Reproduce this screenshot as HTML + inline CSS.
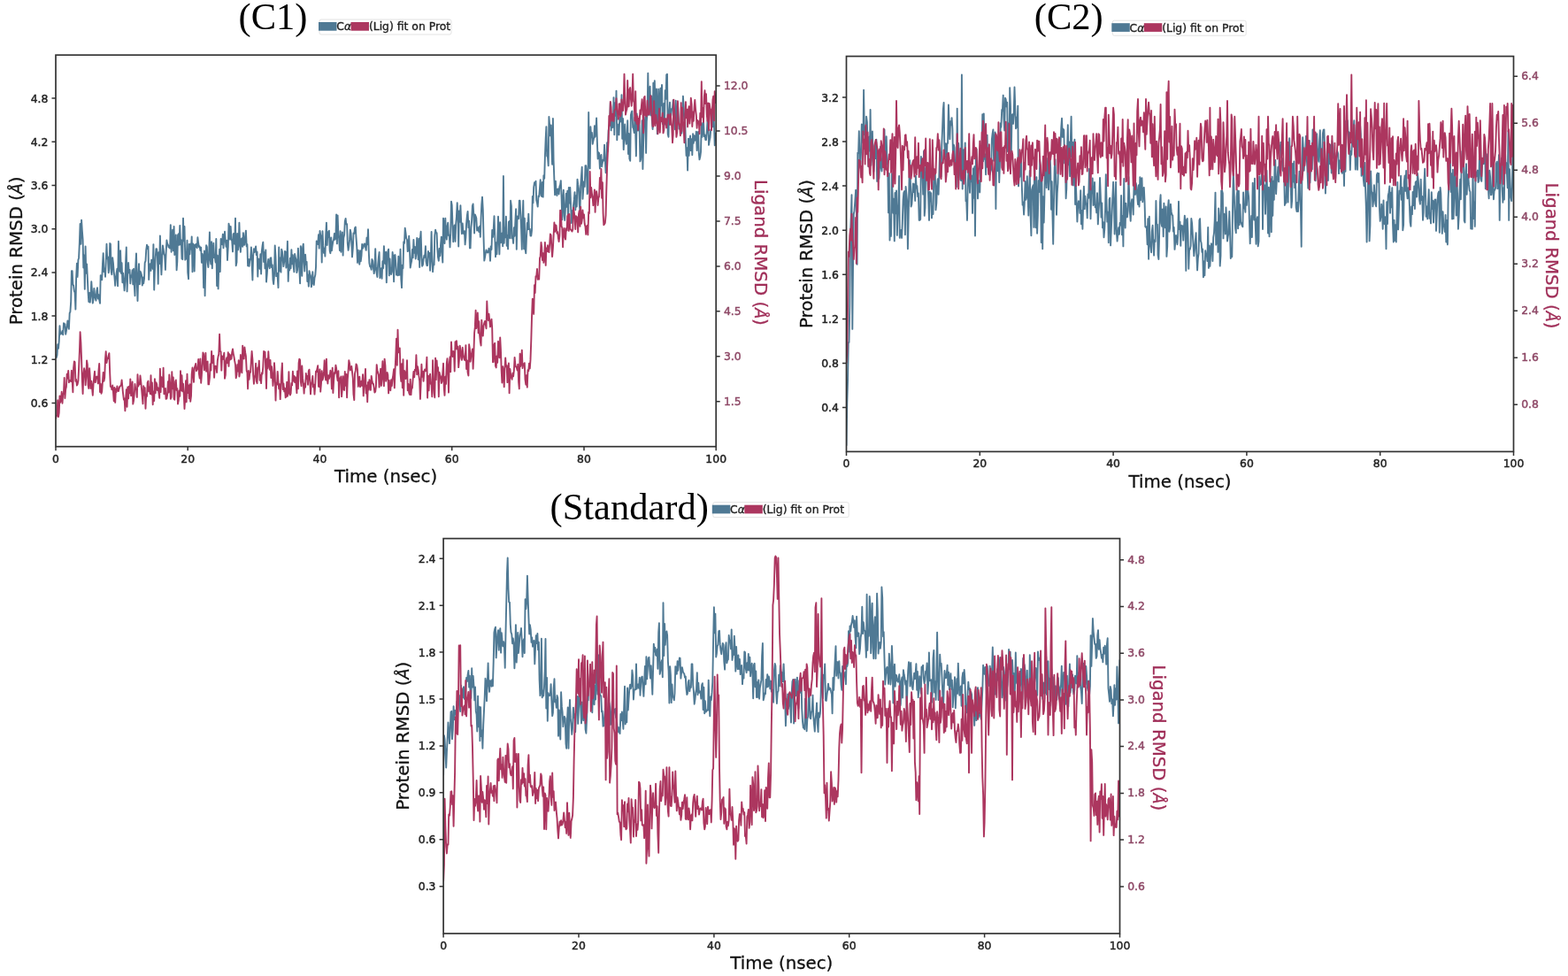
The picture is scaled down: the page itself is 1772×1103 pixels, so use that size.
<!DOCTYPE html>
<html><head><meta charset="utf-8"><title>RMSD plots</title>
<style>html,body{margin:0;padding:0;background:#fff;width:1772px;height:1103px;overflow:hidden}svg{display:block}</style>
</head><body>
<svg width="1772" height="1103" viewBox="0 0 1772 1103">
<rect width="1772" height="1103" fill="#fff"/>
<clipPath id="c1"><rect x="63.0" y="62.2" width="746.2" height="442.5"/></clipPath>
<g clip-path="url(#c1)" fill="none" stroke-width="1.9" stroke-linejoin="round">
<path d="M63.0 400.2L63.7 404.3L64.5 401.4L65.2 389.2L66.0 393.9L66.7 386.2L67.5 368.3L68.2 377.7L69.0 377.4L69.7 376.6L70.5 373.9L71.2 378.4L72.0 365.1L72.7 369.2L73.4 366.1L74.2 377.7L74.9 374.2L75.7 369.5L76.4 362.5L77.2 367.5L77.9 371.9L78.7 353.7L79.4 352.5L80.2 340.5L80.9 306.2L81.7 306.2L82.4 321.7L83.1 322.6L83.9 329.1L84.6 330.5L85.4 349.6L86.1 315.5L86.9 297.7L87.6 312.9L88.4 293.8L89.1 291.4L89.9 273.4L90.6 252.9L91.4 275.8L92.1 248.6L92.8 260.4L93.6 270.6L94.3 302.6L95.1 288.5L95.8 326.8L96.6 278.4L97.3 308.7L98.1 298.4L98.8 313.1L99.6 330.9L100.3 341.0L101.1 331.0L101.8 341.7L102.5 334.2L103.3 318.3L104.0 329.0L104.8 342.6L105.5 338.8L106.3 325.9L107.0 332.5L107.8 337.5L108.5 339.7L109.3 328.8L110.0 325.2L110.8 337.5L111.5 333.3L112.2 338.9L113.0 342.9L113.7 311.1L114.5 312.3L115.2 316.4L116.0 297.5L116.7 286.1L117.5 307.1L118.2 303.8L119.0 312.7L119.7 296.1L120.5 275.8L121.2 292.2L121.9 290.5L122.7 308.3L123.4 303.2L124.2 275.0L124.9 275.9L125.7 307.0L126.4 310.2L127.2 291.2L127.9 296.9L128.7 307.3L129.4 313.0L130.2 322.9L130.9 315.0L131.7 308.2L132.4 303.7L133.1 323.2L133.9 272.7L134.6 298.7L135.4 306.9L136.1 283.2L136.9 308.9L137.6 297.1L138.4 319.2L139.1 308.6L139.9 318.3L140.6 328.4L141.4 318.0L142.1 295.3L142.8 279.4L143.6 329.4L144.3 310.8L145.1 296.9L145.8 308.4L146.6 305.0L147.3 320.4L148.1 311.5L148.8 313.0L149.6 305.2L150.3 321.4L151.1 303.8L151.8 322.9L152.5 334.2L153.3 300.3L154.0 286.4L154.8 318.9L155.5 340.0L156.3 310.9L157.0 298.1L157.8 321.3L158.5 306.6L159.3 308.3L160.0 311.0L160.8 322.5L161.5 313.4L162.2 320.3L163.0 315.2L163.7 296.8L164.5 294.9L165.2 282.7L166.0 276.8L166.7 281.0L167.5 278.6L168.2 316.0L169.0 301.1L169.7 298.1L170.5 305.9L171.2 293.6L171.9 294.0L172.7 303.8L173.4 276.1L174.2 327.6L174.9 307.5L175.7 291.4L176.4 281.2L177.2 281.5L177.9 289.1L178.7 320.7L179.4 285.3L180.2 298.1L180.9 266.5L181.6 291.9L182.4 310.4L183.1 293.4L183.9 277.5L184.6 280.9L185.4 287.4L186.1 288.5L186.9 304.9L187.6 286.3L188.4 271.5L189.1 275.2L189.9 276.7L190.6 279.5L191.3 278.3L192.1 280.6L192.8 254.1L193.6 284.7L194.3 271.4L195.1 259.6L195.8 283.2L196.6 256.0L197.3 288.0L198.1 282.4L198.8 265.5L199.6 305.3L200.3 296.0L201.0 265.7L201.8 264.3L202.5 276.9L203.3 255.0L204.0 276.3L204.8 271.2L205.5 292.4L206.3 293.2L207.0 246.6L207.8 272.3L208.5 256.0L209.3 293.7L210.0 288.2L210.7 292.5L211.5 271.7L212.2 307.8L213.0 315.2L213.7 276.0L214.5 287.2L215.2 275.7L216.0 281.6L216.7 267.4L217.5 307.3L218.2 275.4L219.0 278.1L219.7 306.6L220.4 276.4L221.2 279.0L221.9 275.6L222.7 280.2L223.4 268.3L224.2 275.0L224.9 279.2L225.7 278.4L226.4 283.1L227.2 279.7L227.9 296.8L228.7 286.9L229.4 290.6L230.1 325.0L230.9 283.4L231.6 334.2L232.4 298.1L233.1 277.1L233.9 279.0L234.6 296.6L235.4 302.0L236.1 288.7L236.9 262.4L237.6 293.4L238.4 298.5L239.1 273.1L239.8 303.2L240.6 284.4L241.3 274.8L242.1 291.1L242.8 290.2L243.6 296.5L244.3 269.9L245.1 323.0L245.8 288.8L246.6 326.4L247.3 299.3L248.1 281.8L248.8 307.1L249.6 269.9L250.3 272.0L251.0 276.2L251.8 264.8L252.5 280.2L253.3 269.0L254.0 261.8L254.8 272.1L255.5 278.7L256.3 271.7L257.0 294.0L257.8 279.0L258.5 252.8L259.3 256.6L260.0 270.6L260.7 256.0L261.5 270.3L262.2 272.2L263.0 284.4L263.7 264.3L264.5 263.9L265.2 275.7L266.0 246.6L266.7 300.3L267.5 296.3L268.2 264.0L269.0 282.3L269.7 274.7L270.4 251.7L271.2 276.9L271.9 284.8L272.7 270.2L273.4 269.3L274.2 278.7L274.9 263.3L275.7 276.9L276.4 276.6L277.2 266.1L277.9 260.6L278.7 278.4L279.4 276.2L280.1 300.4L280.9 292.9L281.6 300.9L282.4 292.9L283.1 293.2L283.9 279.5L284.6 296.2L285.4 316.5L286.1 289.4L286.9 281.2L287.6 285.0L288.4 281.7L289.1 278.4L289.8 288.1L290.6 284.7L291.3 312.6L292.1 292.5L292.8 294.0L293.6 303.7L294.3 287.2L295.1 309.5L295.8 284.1L296.6 277.5L297.3 273.6L298.1 296.0L298.8 285.3L299.5 303.4L300.3 282.5L301.0 318.6L301.8 309.5L302.5 299.1L303.3 292.9L304.0 299.5L304.8 303.2L305.5 291.7L306.3 291.3L307.0 302.1L307.8 299.3L308.5 316.4L309.2 321.1L310.0 311.0L310.7 277.4L311.5 290.0L312.2 312.1L313.0 308.7L313.7 313.1L314.5 325.1L315.2 279.4L316.0 306.4L316.7 291.5L317.5 307.6L318.2 281.7L318.9 284.1L319.7 294.0L320.4 301.1L321.2 295.8L321.9 284.0L322.7 284.6L323.4 302.6L324.2 295.1L324.9 272.8L325.7 317.9L326.4 299.8L327.2 305.5L327.9 291.6L328.6 303.3L329.4 282.2L330.1 298.2L330.9 288.2L331.6 300.7L332.4 307.3L333.1 287.0L333.9 291.4L334.6 293.4L335.4 308.1L336.1 305.1L336.9 280.6L337.6 296.5L338.3 303.2L339.1 320.2L339.8 278.2L340.6 283.7L341.3 311.8L342.1 279.5L342.8 275.7L343.6 296.2L344.3 306.5L345.1 287.7L345.8 298.9L346.6 295.9L347.3 318.0L348.0 310.7L348.8 323.6L349.5 306.3L350.3 310.0L351.0 311.6L351.8 324.2L352.5 321.2L353.3 307.3L354.0 318.8L354.8 322.0L355.5 313.9L356.3 310.8L357.0 302.2L357.7 272.5L358.5 273.3L359.2 276.0L360.0 265.3L360.7 280.6L361.5 261.0L362.2 265.5L363.0 267.2L363.7 296.5L364.5 261.3L365.2 277.4L366.0 285.9L366.7 280.7L367.4 289.6L368.2 266.1L368.9 251.6L369.7 277.0L370.4 262.2L371.2 268.0L371.9 260.7L372.7 283.3L373.4 286.2L374.2 268.4L374.9 283.4L375.7 277.0L376.4 272.7L377.2 270.4L377.9 263.9L378.6 270.7L379.4 268.8L380.1 242.5L380.9 275.4L381.6 243.4L382.4 266.1L383.1 269.3L383.9 283.0L384.6 261.2L385.4 284.7L386.1 270.0L386.9 262.4L387.6 288.6L388.3 269.1L389.1 265.3L389.8 250.2L390.6 246.9L391.3 253.3L392.1 253.1L392.8 275.0L393.6 282.9L394.3 278.2L395.1 270.9L395.8 259.7L396.6 263.5L397.3 274.5L398.0 290.4L398.8 280.6L399.5 263.5L400.3 264.0L401.0 257.7L401.8 256.5L402.5 268.5L403.3 279.7L404.0 296.9L404.8 282.7L405.5 292.7L406.3 298.8L407.0 283.3L407.7 295.4L408.5 288.9L409.2 275.9L410.0 280.7L410.7 279.1L411.5 275.7L412.2 275.4L413.0 279.4L413.7 282.9L414.5 268.6L415.2 276.4L416.0 259.2L416.7 283.2L417.4 297.3L418.2 301.2L418.9 301.7L419.7 304.8L420.4 293.0L421.2 294.9L421.9 302.7L422.7 309.1L423.4 304.4L424.2 281.1L424.9 302.7L425.7 309.1L426.4 313.0L427.1 299.9L427.9 290.5L428.6 285.0L429.4 314.1L430.1 309.1L430.9 303.2L431.6 314.8L432.4 295.1L433.1 303.2L433.9 278.1L434.6 296.6L435.4 298.2L436.1 284.6L436.8 319.2L437.6 288.3L438.3 284.3L439.1 281.6L439.8 311.4L440.6 292.5L441.3 308.5L442.1 310.1L442.8 307.2L443.6 285.0L444.3 290.5L445.1 318.2L445.8 288.5L446.5 288.0L447.3 297.8L448.0 310.6L448.8 307.2L449.5 311.4L450.3 289.8L451.0 310.9L451.8 310.4L452.5 281.7L453.3 315.7L454.0 325.1L454.8 299.4L455.5 303.3L456.2 273.3L457.0 275.0L457.7 257.7L458.5 263.2L459.2 269.4L460.0 270.9L460.7 284.1L461.5 282.9L462.2 266.8L463.0 282.6L463.7 302.5L464.5 298.1L465.2 294.7L465.9 281.9L466.7 291.3L467.4 270.9L468.2 285.9L468.9 278.9L469.7 292.5L470.4 287.0L471.2 269.0L471.9 277.8L472.7 293.4L473.4 269.6L474.2 302.0L474.9 269.4L475.6 261.8L476.4 288.9L477.1 300.7L477.9 299.2L478.6 292.9L479.4 288.8L480.1 290.8L480.9 278.2L481.6 295.9L482.4 300.2L483.1 300.0L483.9 284.0L484.6 288.6L485.3 286.0L486.1 305.8L486.8 293.6L487.6 262.0L488.3 288.8L489.1 307.1L489.8 298.9L490.6 299.2L491.3 266.0L492.1 259.8L492.8 262.8L493.6 263.3L494.3 281.5L495.0 290.5L495.8 294.8L496.5 280.9L497.3 289.2L498.0 277.0L498.8 267.7L499.5 285.5L500.3 296.6L501.0 246.6L501.8 254.1L502.5 275.0L503.3 246.6L504.0 263.8L504.8 270.6L505.5 255.7L506.2 251.8L507.0 266.2L507.7 265.6L508.5 279.4L509.2 265.2L510.0 227.6L510.7 231.6L511.5 254.5L512.2 273.3L513.0 258.4L513.7 254.4L514.5 272.9L515.2 253.2L515.9 245.1L516.7 229.3L517.4 241.5L518.2 278.6L518.9 238.5L519.7 250.8L520.4 232.1L521.2 251.2L521.9 264.2L522.7 252.5L523.4 262.5L524.2 264.3L524.9 261.3L525.6 276.4L526.4 267.8L527.1 252.5L527.9 243.3L528.6 239.0L529.4 257.1L530.1 249.6L530.9 280.4L531.6 280.4L532.4 256.9L533.1 249.5L533.9 232.5L534.6 230.5L535.3 242.3L536.1 263.5L536.8 242.4L537.6 244.3L538.3 246.5L539.1 260.6L539.8 256.7L540.6 259.2L541.3 262.1L542.1 255.7L542.8 267.8L543.6 246.2L544.3 230.8L545.0 222.6L545.8 237.2L546.5 267.1L547.3 294.6L548.0 290.9L548.8 285.8L549.5 282.5L550.3 284.6L551.0 285.6L551.8 285.0L552.5 280.6L553.3 284.5L554.0 294.8L554.7 278.4L555.5 282.0L556.2 260.0L557.0 268.0L557.7 259.6L558.5 244.2L559.2 264.6L560.0 290.2L560.7 274.2L561.5 287.2L562.2 270.7L563.0 244.8L563.7 269.3L564.4 287.4L565.2 251.3L565.9 274.4L566.7 273.3L567.4 263.5L568.2 278.2L568.9 199.0L569.7 274.7L570.4 257.2L571.2 268.3L571.9 244.7L572.7 277.7L573.4 266.2L574.1 281.4L574.9 250.9L575.6 250.0L576.4 269.3L577.1 226.8L577.9 232.9L578.6 269.2L579.4 267.6L580.1 274.9L580.9 257.2L581.6 266.7L582.4 249.3L583.1 236.3L583.8 281.7L584.6 244.4L585.3 247.6L586.1 247.0L586.8 226.8L587.6 226.8L588.3 242.5L589.1 259.6L589.8 281.7L590.6 243.9L591.3 226.8L592.1 281.2L592.8 246.7L593.5 281.2L594.3 286.3L595.0 268.2L595.8 252.0L596.5 259.2L597.3 241.6L598.0 259.1L598.8 258.7L599.5 266.5L600.3 266.5L601.0 260.4L601.8 221.9L602.5 229.2L603.2 211.6L604.0 206.3L604.7 208.7L605.5 204.6L606.2 226.3L607.0 229.5L607.7 233.6L608.5 221.5L609.2 222.1L610.0 212.5L610.7 203.3L611.5 220.8L612.2 221.9L612.9 205.9L613.7 222.6L614.4 198.2L615.2 201.8L615.9 177.1L616.7 156.2L617.4 143.1L618.2 176.5L618.9 176.5L619.7 187.2L620.4 131.9L621.2 143.1L621.9 153.4L622.7 141.4L623.4 167.4L624.1 185.7L624.9 134.0L625.6 181.5L626.4 203.5L627.1 220.2L627.9 204.6L628.6 217.3L629.4 221.1L630.1 213.6L630.9 213.5L631.6 219.5L632.4 210.6L633.1 208.9L633.8 204.1L634.6 223.5L635.3 248.2L636.1 225.1L636.8 214.7L637.6 244.0L638.3 249.0L639.1 231.8L639.8 218.8L640.6 233.8L641.3 215.7L642.1 254.7L642.8 211.9L643.5 229.5L644.3 211.9L645.0 229.7L645.8 252.0L646.5 238.3L647.3 245.9L648.0 232.1L648.8 225.9L649.5 217.1L650.3 237.3L651.0 221.3L651.8 233.6L652.5 202.7L653.2 208.4L654.0 213.2L654.7 230.7L655.5 239.3L656.2 210.4L657.0 198.6L657.7 188.7L658.5 224.8L659.2 214.4L660.0 205.3L660.7 210.9L661.5 187.1L662.2 187.1L662.9 194.3L663.7 219.2L664.4 216.2L665.2 127.0L665.9 179.4L666.7 190.4L667.4 143.3L668.2 155.4L668.9 150.0L669.7 162.7L670.4 159.3L671.2 155.8L671.9 142.3L672.6 154.7L673.4 146.7L674.1 133.4L674.9 161.0L675.6 179.5L676.4 172.3L677.1 173.1L677.9 190.5L678.6 178.0L679.4 175.0L680.1 188.3L680.9 183.7L681.6 180.5L682.3 181.5L683.1 163.6L683.8 181.1L684.6 195.3L685.3 188.9L686.1 161.2L686.8 171.0L687.6 147.6L688.3 142.9L689.1 138.1L689.8 116.0L690.6 147.4L691.3 135.6L692.0 144.0L692.8 143.7L693.5 110.1L694.3 152.3L695.0 116.2L695.8 130.9L696.5 102.6L697.3 158.3L698.0 140.5L698.8 146.5L699.5 152.4L700.3 132.6L701.0 137.7L701.7 135.9L702.5 107.1L703.2 156.8L704.0 134.0L704.7 169.1L705.5 154.1L706.2 140.5L707.0 155.9L707.7 162.9L708.5 159.6L709.2 136.3L710.0 174.1L710.7 150.9L711.4 179.4L712.2 181.8L712.9 130.0L713.7 126.6L714.4 125.6L715.2 144.0L715.9 145.0L716.7 150.0L717.4 132.7L718.2 150.0L718.9 176.4L719.7 128.5L720.4 138.0L721.1 147.6L721.9 142.6L722.6 140.8L723.4 182.4L724.1 180.2L724.9 170.1L725.6 136.2L726.4 191.1L727.1 161.5L727.9 137.8L728.6 137.8L729.4 131.9L730.1 172.9L730.8 136.8L731.6 127.4L732.3 82.8L733.1 129.7L733.8 104.4L734.6 97.8L735.3 130.2L736.1 108.4L736.8 136.0L737.6 146.0L738.3 93.7L739.1 115.4L739.8 91.2L740.5 116.3L741.3 138.7L742.0 100.4L742.8 151.3L743.5 124.2L744.3 100.7L745.0 117.0L745.8 136.7L746.5 99.6L747.3 119.2L748.0 95.9L748.8 140.1L749.5 130.0L750.3 117.0L751.0 140.8L751.7 102.3L752.5 111.9L753.2 84.5L754.0 83.8L754.7 151.2L755.5 154.8L756.2 126.6L757.0 115.8L757.7 134.2L758.5 129.0L759.2 122.9L760.0 122.2L760.7 113.3L761.4 131.3L762.2 139.2L762.9 146.2L763.7 113.7L764.4 141.1L765.2 135.2L765.9 116.6L766.7 131.8L767.4 145.6L768.2 144.1L768.9 146.8L769.7 150.6L770.4 150.7L771.1 136.8L771.9 108.7L772.6 119.6L773.4 135.8L774.1 134.5L774.9 159.9L775.6 175.9L776.4 167.3L777.1 192.5L777.9 156.6L778.6 175.9L779.4 160.1L780.1 153.5L780.8 170.1L781.6 157.3L782.3 175.1L783.1 151.3L783.8 161.8L784.6 153.1L785.3 158.8L786.1 158.3L786.8 148.8L787.6 170.0L788.3 149.5L789.1 148.9L789.8 173.5L790.5 180.3L791.3 177.1L792.0 171.6L792.8 139.0L793.5 154.9L794.3 147.1L795.0 136.7L795.8 154.1L796.5 152.3L797.3 158.1L798.0 158.2L798.8 149.3L799.5 136.9L800.2 131.8L801.0 163.9L801.7 159.3L802.5 155.6L803.2 146.6L804.0 145.6L804.7 143.2L805.5 143.1L806.2 117.5L807.0 140.7L807.7 164.2L808.5 150.6L809.2 151.0" stroke="#4f7994"/>
<path d="M63.0 473.5L63.7 469.8L64.5 469.7L65.2 452.3L66.0 471.1L66.7 466.7L67.5 447.4L68.2 454.7L69.0 451.5L69.7 442.8L70.5 455.8L71.2 446.0L72.0 443.9L72.7 427.0L73.4 450.0L74.2 439.9L74.9 437.2L75.7 422.6L76.4 427.6L77.2 418.9L77.9 432.2L78.7 429.8L79.4 430.3L80.2 431.0L80.9 418.6L81.7 431.8L82.4 443.2L83.1 415.8L83.9 408.4L84.6 409.1L85.4 430.8L86.1 429.0L86.9 435.6L87.6 434.3L88.4 430.3L89.1 416.1L89.9 397.1L90.6 375.3L91.4 387.2L92.1 405.8L92.8 428.1L93.6 445.0L94.3 423.6L95.1 416.3L95.8 419.8L96.6 435.2L97.3 426.7L98.1 407.4L98.8 411.9L99.6 435.2L100.3 439.0L101.1 416.1L101.8 426.6L102.5 439.0L103.3 430.6L104.0 437.7L104.8 446.7L105.5 435.1L106.3 426.3L107.0 419.8L107.8 432.1L108.5 426.5L109.3 425.5L110.0 426.0L110.8 433.4L111.5 418.3L112.2 410.9L113.0 443.1L113.7 433.6L114.5 444.8L115.2 442.4L116.0 430.3L116.7 420.9L117.5 430.7L118.2 426.9L119.0 405.6L119.7 397.1L120.5 410.0L121.2 405.8L121.9 405.2L122.7 401.8L123.4 399.1L124.2 421.6L124.9 436.9L125.7 436.9L126.4 440.3L127.2 435.4L127.9 442.3L128.7 453.2L129.4 437.9L130.2 454.9L130.9 439.4L131.7 443.0L132.4 436.4L133.1 439.5L133.9 442.1L134.6 439.1L135.4 436.6L136.1 436.3L136.9 435.2L137.6 429.5L138.4 437.9L139.1 445.0L139.9 451.6L140.6 450.4L141.4 464.2L142.1 450.5L142.8 440.3L143.6 459.8L144.3 437.4L145.1 450.4L145.8 436.6L146.6 444.2L147.3 428.4L148.1 447.3L148.8 441.8L149.6 431.5L150.3 456.6L151.1 452.6L151.8 444.8L152.5 434.0L153.3 440.1L154.0 439.9L154.8 448.9L155.5 423.2L156.3 436.5L157.0 434.5L157.8 434.4L158.5 424.5L159.3 431.6L160.0 439.1L160.8 448.5L161.5 456.3L162.2 436.1L163.0 446.6L163.7 438.1L164.5 461.7L165.2 445.7L166.0 447.9L166.7 432.4L167.5 430.6L168.2 442.4L169.0 437.7L169.7 445.0L170.5 424.2L171.2 445.8L171.9 432.4L172.7 457.3L173.4 442.6L174.2 453.0L174.9 428.2L175.7 444.2L176.4 432.1L177.2 434.4L177.9 441.0L178.7 438.3L179.4 444.2L180.2 449.9L180.9 416.8L181.6 443.1L182.4 426.1L183.1 429.4L183.9 437.4L184.6 415.8L185.4 445.3L186.1 440.2L186.9 438.9L187.6 450.9L188.4 450.5L189.1 446.1L189.9 431.2L190.6 443.5L191.3 423.5L192.1 432.6L192.8 450.8L193.6 448.9L194.3 420.2L195.1 439.4L195.8 426.5L196.6 450.8L197.3 451.8L198.1 431.4L198.8 429.5L199.6 441.0L200.3 439.2L201.0 456.5L201.8 452.3L202.5 441.4L203.3 447.8L204.0 419.2L204.8 441.4L205.5 424.2L206.3 442.2L207.0 433.7L207.8 446.4L208.5 462.0L209.3 448.2L210.0 430.3L210.7 454.4L211.5 422.7L212.2 444.0L213.0 435.7L213.7 450.3L214.5 434.1L215.2 453.8L216.0 447.5L216.7 422.8L217.5 415.5L218.2 423.9L219.0 431.8L219.7 416.0L220.4 413.9L221.2 411.0L221.9 419.2L222.7 417.5L223.4 416.2L224.2 406.0L224.9 422.2L225.7 427.6L226.4 405.4L227.2 432.8L227.9 423.6L228.7 410.7L229.4 398.4L230.1 400.4L230.9 418.4L231.6 409.1L232.4 398.9L233.1 419.7L233.9 409.4L234.6 408.5L235.4 434.4L236.1 434.4L236.9 426.9L237.6 411.4L238.4 418.5L239.1 396.9L239.8 410.2L240.6 406.6L241.3 402.0L242.1 426.7L242.8 414.0L243.6 413.7L244.3 414.3L245.1 421.0L245.8 407.7L246.6 402.6L247.3 400.3L248.1 377.8L248.8 397.1L249.6 397.3L250.3 418.6L251.0 402.4L251.8 406.0L252.5 403.8L253.3 398.8L254.0 427.7L254.8 423.8L255.5 407.4L256.3 404.1L257.0 410.3L257.8 398.2L258.5 413.9L259.3 400.3L260.0 406.5L260.7 401.4L261.5 405.7L262.2 398.3L263.0 394.5L263.7 399.6L264.5 403.4L265.2 407.9L266.0 412.3L266.7 427.2L267.5 423.3L268.2 412.2L269.0 419.5L269.7 407.3L270.4 425.5L271.2 420.4L271.9 401.0L272.7 417.5L273.4 421.4L274.2 390.7L274.9 400.5L275.7 405.6L276.4 392.5L277.2 398.4L277.9 402.5L278.7 418.9L279.4 420.9L280.1 439.4L280.9 418.9L281.6 428.9L282.4 420.5L283.1 420.7L283.9 407.0L284.6 397.0L285.4 406.0L286.1 422.6L286.9 433.8L287.6 426.6L288.4 424.1L289.1 410.7L289.8 430.9L290.6 433.2L291.3 415.5L292.1 416.7L292.8 407.7L293.6 429.7L294.3 423.9L295.1 433.1L295.8 421.5L296.6 422.5L297.3 414.5L298.1 396.9L298.8 402.6L299.5 397.8L300.3 418.0L301.0 439.0L301.8 405.4L302.5 416.4L303.3 397.2L304.0 408.8L304.8 417.7L305.5 407.0L306.3 427.0L307.0 414.3L307.8 424.0L308.5 436.0L309.2 428.9L310.0 410.1L310.7 421.5L311.5 452.6L312.2 432.7L313.0 434.7L313.7 419.9L314.5 431.6L315.2 439.3L316.0 434.1L316.7 451.1L317.5 434.1L318.2 420.3L318.9 410.5L319.7 440.0L320.4 433.4L321.2 442.3L321.9 438.8L322.7 449.4L323.4 448.0L324.2 431.7L324.9 447.8L325.7 443.4L326.4 420.2L327.2 444.4L327.9 446.5L328.6 444.7L329.4 432.9L330.1 435.4L330.9 419.7L331.6 430.6L332.4 424.9L333.1 432.0L333.9 426.3L334.6 434.2L335.4 444.1L336.1 419.5L336.9 439.3L337.6 410.1L338.3 405.6L339.1 406.9L339.8 431.0L340.6 436.4L341.3 413.5L342.1 427.9L342.8 432.9L343.6 444.6L344.3 433.8L345.1 437.8L345.8 422.0L346.6 428.1L347.3 424.9L348.0 434.7L348.8 419.1L349.5 417.7L350.3 431.0L351.0 445.4L351.8 434.7L352.5 431.8L353.3 425.0L354.0 437.4L354.8 434.6L355.5 445.6L356.3 434.3L357.0 419.6L357.7 420.4L358.5 416.5L359.2 413.2L360.0 436.8L360.7 437.1L361.5 417.4L362.2 442.6L363.0 432.8L363.7 419.3L364.5 429.5L365.2 427.2L366.0 419.9L366.7 407.2L367.4 423.7L368.2 429.5L368.9 405.6L369.7 427.9L370.4 433.5L371.2 424.1L371.9 427.9L372.7 424.8L373.4 418.8L374.2 422.2L374.9 439.4L375.7 415.8L376.4 444.0L377.2 429.2L377.9 421.0L378.6 421.9L379.4 412.8L380.1 416.3L380.9 425.3L381.6 430.2L382.4 419.3L383.1 449.3L383.9 427.5L384.6 428.7L385.4 425.5L386.1 448.1L386.9 439.1L387.6 425.2L388.3 439.8L389.1 440.9L389.8 420.0L390.6 435.9L391.3 422.9L392.1 449.3L392.8 428.8L393.6 418.6L394.3 407.2L395.1 410.9L395.8 418.5L396.6 416.3L397.3 414.0L398.0 420.2L398.8 427.5L399.5 445.6L400.3 452.1L401.0 422.3L401.8 418.9L402.5 411.4L403.3 412.9L404.0 417.6L404.8 436.9L405.5 431.2L406.3 425.7L407.0 437.2L407.7 436.1L408.5 430.6L409.2 435.8L410.0 423.3L410.7 447.4L411.5 437.8L412.2 428.8L413.0 417.0L413.7 444.6L414.5 435.7L415.2 454.3L416.0 432.0L416.7 440.6L417.4 429.2L418.2 434.3L418.9 440.8L419.7 424.9L420.4 429.7L421.2 433.5L421.9 433.7L422.7 438.4L423.4 443.5L424.2 442.7L424.9 437.0L425.7 412.1L426.4 418.2L427.1 420.7L427.9 423.7L428.6 437.6L429.4 429.3L430.1 416.8L430.9 435.9L431.6 423.6L432.4 408.3L433.1 427.5L433.9 436.2L434.6 405.6L435.4 413.2L436.1 430.7L436.8 427.7L437.6 421.0L438.3 423.6L439.1 444.4L439.8 429.9L440.6 438.9L441.3 441.3L442.1 429.2L442.8 436.2L443.6 427.9L444.3 424.1L445.1 417.2L445.8 438.4L446.5 418.9L447.3 401.9L448.0 382.6L448.8 412.7L449.5 372.8L450.3 398.4L451.0 396.5L451.8 393.5L452.5 422.1L453.3 430.8L454.0 411.1L454.8 438.2L455.5 406.2L456.2 446.7L457.0 418.9L457.7 420.6L458.5 428.0L459.2 425.8L460.0 407.3L460.7 441.2L461.5 434.0L462.2 443.9L463.0 445.9L463.7 428.6L464.5 446.1L465.2 437.2L465.9 438.7L466.7 427.7L467.4 420.0L468.2 426.4L468.9 417.6L469.7 418.8L470.4 401.2L471.2 423.2L471.9 414.2L472.7 418.1L473.4 424.9L474.2 430.7L474.9 450.9L475.6 434.6L476.4 411.8L477.1 425.9L477.9 419.9L478.6 430.8L479.4 419.8L480.1 417.4L480.9 419.3L481.6 418.2L482.4 403.6L483.1 449.6L483.9 424.7L484.6 441.4L485.3 426.7L486.1 422.8L486.8 433.5L487.6 435.1L488.3 448.3L489.1 407.3L489.8 429.4L490.6 444.0L491.3 449.2L492.1 404.6L492.8 429.1L493.6 407.5L494.3 419.1L495.0 415.1L495.8 448.2L496.5 420.6L497.3 424.1L498.0 425.5L498.8 433.0L499.5 431.3L500.3 421.4L501.0 410.7L501.8 439.0L502.5 446.8L503.3 425.8L504.0 433.9L504.8 410.3L505.5 405.2L506.2 419.7L507.0 443.6L507.7 412.1L508.5 403.5L509.2 420.2L510.0 386.4L510.7 400.8L511.5 403.0L512.2 396.9L513.0 399.3L513.7 419.5L514.5 386.3L515.2 394.5L515.9 385.2L516.7 394.5L517.4 391.6L518.2 415.1L518.9 407.2L519.7 390.6L520.4 395.1L521.2 404.5L521.9 406.9L522.7 392.8L523.4 400.0L524.2 404.4L524.9 406.8L525.6 407.2L526.4 390.1L527.1 417.1L527.9 407.5L528.6 421.0L529.4 424.5L530.1 389.2L530.9 394.4L531.6 408.7L532.4 402.2L533.1 399.3L533.9 394.5L534.6 416.7L535.3 401.5L536.1 376.2L536.8 369.9L537.6 350.8L538.3 371.1L539.1 365.4L539.8 353.5L540.6 376.4L541.3 363.2L542.1 378.7L542.8 386.1L543.6 390.6L544.3 361.6L545.0 373.4L545.8 379.6L546.5 368.6L547.3 365.0L548.0 363.0L548.8 366.6L549.5 371.2L550.3 340.5L551.0 355.7L551.8 362.0L552.5 354.7L553.3 362.9L554.0 369.3L554.7 363.9L555.5 360.7L556.2 370.9L557.0 409.2L557.7 409.1L558.5 389.1L559.2 387.8L560.0 413.7L560.7 415.4L561.5 402.4L562.2 409.8L563.0 385.7L563.7 395.3L564.4 404.3L565.2 381.4L565.9 394.6L566.7 419.3L567.4 432.5L568.2 414.2L568.9 420.2L569.7 437.3L570.4 417.0L571.2 404.5L571.9 414.3L572.7 413.1L573.4 432.1L574.1 422.3L574.9 410.5L575.6 444.3L576.4 417.0L577.1 423.1L577.9 426.8L578.6 428.8L579.4 421.8L580.1 425.4L580.9 418.3L581.6 403.9L582.4 412.7L583.1 414.6L583.8 415.2L584.6 418.6L585.3 411.6L586.1 432.0L586.8 439.3L587.6 399.8L588.3 414.0L589.1 410.0L589.8 395.6L590.6 416.1L591.3 411.3L592.1 412.6L592.8 410.2L593.5 428.8L594.3 434.7L595.0 424.3L595.8 437.6L596.5 418.1L597.3 419.3L598.0 410.6L598.8 416.5L599.5 406.4L600.3 384.2L601.0 358.9L601.8 337.8L602.5 345.4L603.2 354.9L604.0 322.1L604.7 331.0L605.5 312.1L606.2 312.6L607.0 304.0L607.7 315.8L608.5 312.8L609.2 315.7L610.0 292.0L610.7 289.4L611.5 274.0L612.2 279.1L612.9 294.0L613.7 286.3L614.4 296.9L615.2 289.6L615.9 274.0L616.7 299.9L617.4 280.5L618.2 284.4L618.9 277.3L619.7 284.0L620.4 285.1L621.2 275.4L621.9 264.5L622.7 265.7L623.4 280.4L624.1 290.1L624.9 280.1L625.6 266.6L626.4 251.5L627.1 261.8L627.9 254.3L628.6 255.0L629.4 263.6L630.1 262.2L630.9 268.9L631.6 273.1L632.4 266.4L633.1 237.7L633.8 238.0L634.6 256.0L635.3 257.4L636.1 279.2L636.8 262.4L637.6 257.9L638.3 267.5L639.1 270.6L639.8 258.3L640.6 260.4L641.3 244.4L642.1 242.5L642.8 260.9L643.5 242.0L644.3 258.5L645.0 259.5L645.8 260.4L646.5 261.6L647.3 259.3L648.0 234.5L648.8 240.1L649.5 245.1L650.3 259.0L651.0 244.2L651.8 244.9L652.5 248.4L653.2 262.4L654.0 242.0L654.7 238.2L655.5 255.8L656.2 233.7L657.0 252.8L657.7 249.1L658.5 237.5L659.2 246.3L660.0 242.5L660.7 253.0L661.5 256.2L662.2 264.9L662.9 255.8L663.7 254.8L664.4 265.4L665.2 239.8L665.9 241.1L666.7 194.0L667.4 223.4L668.2 212.0L668.9 218.6L669.7 223.5L670.4 232.1L671.2 224.9L671.9 214.4L672.6 239.8L673.4 219.7L674.1 216.1L674.9 221.3L675.6 232.0L676.4 223.5L677.1 222.0L677.9 200.9L678.6 213.4L679.4 190.9L680.1 223.7L680.9 206.2L681.6 241.1L682.3 254.3L683.1 253.1L683.8 252.0L684.6 243.1L685.3 215.6L686.1 189.2L686.8 173.9L687.6 160.2L688.3 131.0L689.1 141.8L689.8 115.0L690.6 120.9L691.3 136.6L692.0 129.7L692.8 128.7L693.5 137.0L694.3 125.0L695.0 123.9L695.8 123.1L696.5 111.3L697.3 125.5L698.0 128.7L698.8 134.7L699.5 117.4L700.3 117.2L701.0 131.6L701.7 129.0L702.5 112.4L703.2 120.4L704.0 125.3L704.7 115.9L705.5 83.8L706.2 108.1L707.0 129.6L707.7 125.9L708.5 123.3L709.2 91.0L710.0 120.5L710.7 120.1L711.4 101.1L712.2 99.1L712.9 111.6L713.7 119.7L714.4 109.6L715.2 83.8L715.9 113.7L716.7 116.1L717.4 136.4L718.2 103.1L718.9 136.4L719.7 140.1L720.4 131.4L721.1 146.9L721.9 133.9L722.6 139.8L723.4 124.4L724.1 129.2L724.9 119.6L725.6 112.3L726.4 123.4L727.1 150.3L727.9 110.5L728.6 108.9L729.4 130.4L730.1 130.2L730.8 131.4L731.6 113.7L732.3 128.9L733.1 129.5L733.8 129.0L734.6 118.8L735.3 108.2L736.1 122.8L736.8 131.2L737.6 142.7L738.3 143.0L739.1 114.2L739.8 136.4L740.5 142.0L741.3 130.0L742.0 135.6L742.8 139.7L743.5 151.3L744.3 139.1L745.0 122.7L745.8 149.8L746.5 132.6L747.3 137.3L748.0 135.4L748.8 127.7L749.5 150.4L750.3 147.3L751.0 134.0L751.7 139.1L752.5 134.1L753.2 144.5L754.0 136.1L754.7 129.5L755.5 129.6L756.2 132.2L757.0 141.0L757.7 128.7L758.5 136.2L759.2 143.2L760.0 161.3L760.7 152.3L761.4 112.6L762.2 126.7L762.9 132.1L763.7 141.3L764.4 154.9L765.2 149.7L765.9 114.2L766.7 138.1L767.4 140.2L768.2 143.5L768.9 153.3L769.7 116.1L770.4 148.5L771.1 121.7L771.9 136.5L772.6 142.6L773.4 161.3L774.1 134.7L774.9 115.1L775.6 133.3L776.4 123.7L777.1 143.4L777.9 125.4L778.6 120.2L779.4 139.6L780.1 132.3L780.8 110.8L781.6 117.7L782.3 143.0L783.1 126.5L783.8 136.8L784.6 121.2L785.3 112.9L786.1 123.7L786.8 130.0L787.6 144.8L788.3 135.9L789.1 137.6L789.8 137.5L790.5 151.3L791.3 127.9L792.0 141.3L792.8 92.2L793.5 132.2L794.3 122.2L795.0 138.0L795.8 109.4L796.5 102.3L797.3 117.1L798.0 106.3L798.8 129.9L799.5 136.7L800.2 116.5L801.0 147.3L801.7 116.9L802.5 122.3L803.2 124.2L804.0 147.1L804.7 129.0L805.5 112.4L806.2 108.8L807.0 136.3L807.7 103.2L808.5 113.4L809.2 116.8" stroke="#ac365f"/>
</g>
<rect x="63.0" y="62.2" width="746.2" height="442.5" fill="none" stroke="#333333" stroke-width="1.7"/>
<path d="M63.0 504.7v4.5M212.2 504.7v4.5M361.5 504.7v4.5M510.7 504.7v4.5M660.0 504.7v4.5M809.2 504.7v4.5M63.0 455.5h-4.5M63.0 406.3h-4.5M63.0 357.1h-4.5M63.0 307.9h-4.5M63.0 258.7h-4.5M63.0 209.5h-4.5M63.0 160.3h-4.5M63.0 111.1h-4.5M809.2 453.7h4.5M809.2 402.8h4.5M809.2 351.8h4.5M809.2 300.9h4.5M809.2 249.9h4.5M809.2 199.0h4.5M809.2 148.0h4.5M809.2 97.1h4.5" stroke="#333333" stroke-width="1.5" fill="none"/>
<g style="font-family:'DejaVu Sans','Liberation Sans',sans-serif;font-size:12.4px" fill="#222" stroke="#222" stroke-width="0.45">
<text x="63.0" y="522.5" text-anchor="middle">0</text>
<text x="212.2" y="522.5" text-anchor="middle">20</text>
<text x="361.5" y="522.5" text-anchor="middle">40</text>
<text x="510.7" y="522.5" text-anchor="middle">60</text>
<text x="660.0" y="522.5" text-anchor="middle">80</text>
<text x="809.2" y="522.5" text-anchor="middle">100</text>
<text x="54.4" y="460.0" text-anchor="end">0.6</text>
<text x="54.4" y="410.8" text-anchor="end">1.2</text>
<text x="54.4" y="361.6" text-anchor="end">1.8</text>
<text x="54.4" y="312.4" text-anchor="end">2.4</text>
<text x="54.4" y="263.2" text-anchor="end">3.0</text>
<text x="54.4" y="214.0" text-anchor="end">3.6</text>
<text x="54.4" y="164.8" text-anchor="end">4.2</text>
<text x="54.4" y="115.6" text-anchor="end">4.8</text>
</g>
<g style="font-family:'DejaVu Sans','Liberation Sans',sans-serif;font-size:12.4px" fill="#8e4866" stroke="#8e4866" stroke-width="0.45">
<text x="817.9" y="457.5">1.5</text>
<text x="817.9" y="406.6">3.0</text>
<text x="817.9" y="355.6">4.5</text>
<text x="817.9" y="304.7">6.0</text>
<text x="817.9" y="253.7">7.5</text>
<text x="817.9" y="202.8">9.0</text>
<text x="817.9" y="151.8">10.5</text>
<text x="817.9" y="100.9">12.0</text>
</g>
<text x="436.1" y="545.0" text-anchor="middle" style="font-family:'DejaVu Sans','Liberation Sans',sans-serif;font-size:19.8px" fill="#111" stroke="#111" stroke-width="0.3">Time (nsec)</text>
<text transform="translate(25.2 283.4) rotate(-90)" text-anchor="middle" style="font-family:'DejaVu Sans','Liberation Sans',sans-serif;font-size:19.8px" fill="#111" stroke="#111" stroke-width="0.3">Protein RMSD (<tspan font-style="italic" font-size="17.5px">Å</tspan>)</text>
<text transform="translate(852.7 285.4) rotate(90)" text-anchor="middle" style="font-family:'DejaVu Sans','Liberation Sans',sans-serif;font-size:19.8px" fill="#a02e58" stroke="#a02e58" stroke-width="0.3">Ligand RMSD (<tspan font-style="italic" font-size="17.5px">Å</tspan>)</text>
<rect x="361.0" y="22.0" width="149.0" height="17.0" rx="2" fill="#fff" stroke="#e2e2e2" stroke-width="1"/>
<rect x="360.0" y="25.0" width="20.5" height="9.7" fill="#4f7994"/>
<text x="380.3" y="34.3" style="font-family:'DejaVu Sans','Liberation Sans',sans-serif;font-size:12.3px" fill="#222" stroke="#222" stroke-width="0.35">C<tspan font-style="italic">α</tspan></text>
<rect x="396.5" y="25.0" width="20.5" height="9.7" fill="#ac365f"/>
<text x="416.9" y="34.3" style="font-family:'DejaVu Sans','Liberation Sans',sans-serif;font-size:12.4px" fill="#222" stroke="#222" stroke-width="0.35">(Lig) fit on Prot</text>
<text x="269.5" y="32.8" style="font-family:'Liberation Serif','Times New Roman',serif;font-size:42.5px" fill="#000">(C1)</text>
<clipPath id="c2"><rect x="956.5" y="63.6" width="754.0" height="446.79999999999995"/></clipPath>
<g clip-path="url(#c2)" fill="none" stroke-width="1.9" stroke-linejoin="round">
<path d="M956.5 503.8L957.3 455.1L958.0 431.3L958.8 386.9L959.5 386.9L960.3 345.6L961.0 264.8L961.8 244.6L962.5 220.3L963.3 371.9L964.0 303.5L964.8 242.0L965.5 238.4L966.3 227.4L967.1 214.8L967.8 230.0L968.6 298.8L969.3 172.6L970.1 173.1L970.8 148.1L971.6 183.9L972.3 189.7L973.1 171.2L973.8 140.4L974.6 142.4L975.4 161.5L976.1 101.7L976.9 152.1L977.6 143.2L978.4 174.0L979.1 131.8L979.9 138.1L980.6 169.6L981.4 188.3L982.1 154.8L982.9 170.5L983.6 123.9L984.4 186.8L985.2 166.8L985.9 148.5L986.7 181.2L987.4 193.8L988.2 177.1L988.9 161.6L989.7 179.1L990.4 157.8L991.2 205.0L991.9 199.3L992.7 189.2L993.4 201.9L994.2 183.4L995.0 165.7L995.7 189.3L996.5 193.5L997.2 181.3L998.0 168.0L998.7 184.0L999.5 146.4L1000.2 186.0L1001.0 191.3L1001.7 154.3L1002.5 182.1L1003.2 187.1L1004.0 240.4L1004.8 196.0L1005.5 271.5L1006.3 247.8L1007.0 266.9L1007.8 196.3L1008.5 218.3L1009.3 240.7L1010.0 224.7L1010.8 272.4L1011.5 217.9L1012.3 241.2L1013.0 215.4L1013.8 265.9L1014.6 242.3L1015.3 230.0L1016.1 199.0L1016.8 268.8L1017.6 261.4L1018.3 260.0L1019.1 268.9L1019.8 251.8L1020.6 226.0L1021.3 217.8L1022.1 216.1L1022.9 265.2L1023.6 210.9L1024.4 219.1L1025.1 226.6L1025.9 281.3L1026.6 251.4L1027.4 207.8L1028.1 181.1L1028.9 204.7L1029.6 233.6L1030.4 230.8L1031.1 220.1L1031.9 207.4L1032.7 217.0L1033.4 208.3L1034.2 226.9L1034.9 198.8L1035.7 212.5L1036.4 210.1L1037.2 222.1L1037.9 218.5L1038.7 248.9L1039.4 248.9L1040.2 247.9L1040.9 177.0L1041.7 198.1L1042.5 196.6L1043.2 219.6L1044.0 171.0L1044.7 243.8L1045.5 235.0L1046.2 189.8L1047.0 187.0L1047.7 190.3L1048.5 208.9L1049.2 223.7L1050.0 248.9L1050.8 216.8L1051.5 227.6L1052.3 218.3L1053.0 246.4L1053.8 233.0L1054.5 242.1L1055.3 196.2L1056.0 205.1L1056.8 193.6L1057.5 237.2L1058.3 229.6L1059.0 209.8L1059.8 202.2L1060.6 219.7L1061.3 199.1L1062.1 170.3L1062.8 179.6L1063.6 199.6L1064.3 163.8L1065.1 144.8L1065.8 124.4L1066.6 115.9L1067.3 162.7L1068.1 177.3L1068.8 162.3L1069.6 192.0L1070.4 162.3L1071.1 162.0L1071.9 118.5L1072.6 138.1L1073.4 157.2L1074.1 137.2L1074.9 141.4L1075.6 133.1L1076.4 145.8L1077.1 182.4L1077.9 163.6L1078.6 167.0L1079.4 191.6L1080.2 192.2L1080.9 211.3L1081.7 122.6L1082.4 185.3L1083.2 161.9L1083.9 174.4L1084.7 193.4L1085.4 203.1L1086.2 204.0L1086.9 84.4L1087.7 213.6L1088.5 174.4L1089.2 169.2L1090.0 191.6L1090.7 161.4L1091.5 227.2L1092.2 225.8L1093.0 248.9L1093.7 210.1L1094.5 191.5L1095.2 200.5L1096.0 217.8L1096.7 188.3L1097.5 205.4L1098.3 198.7L1099.0 240.9L1099.8 190.4L1100.5 223.7L1101.3 188.1L1102.0 266.5L1102.8 178.0L1103.5 168.3L1104.3 194.9L1105.0 224.4L1105.8 206.2L1106.5 204.2L1107.3 217.4L1108.1 186.3L1108.8 179.9L1109.6 167.4L1110.3 129.1L1111.1 182.2L1111.8 128.5L1112.6 179.8L1113.3 174.1L1114.1 197.3L1114.8 176.4L1115.6 152.6L1116.3 187.7L1117.1 178.5L1117.9 190.0L1118.6 197.2L1119.4 194.0L1120.1 191.9L1120.9 157.3L1121.6 151.1L1122.4 146.4L1123.1 181.7L1123.9 162.5L1124.6 149.5L1125.4 236.0L1126.2 153.3L1126.9 192.6L1127.7 193.3L1128.4 168.9L1129.2 206.1L1129.9 187.0L1130.7 139.3L1131.4 143.8L1132.2 124.0L1132.9 125.3L1133.7 107.6L1134.4 134.7L1135.2 147.5L1136.0 110.7L1136.7 112.4L1137.5 120.5L1138.2 115.6L1139.0 171.3L1139.7 139.4L1140.5 172.0L1141.2 99.2L1142.0 120.5L1142.7 180.0L1143.5 131.8L1144.2 129.1L1145.0 139.9L1145.8 125.9L1146.5 98.5L1147.3 122.9L1148.0 145.2L1148.8 132.8L1149.5 143.8L1150.3 119.8L1151.0 210.4L1151.8 196.6L1152.5 199.9L1153.3 180.5L1154.0 180.6L1154.8 209.8L1155.6 231.6L1156.3 228.5L1157.1 242.5L1157.8 229.4L1158.6 204.9L1159.3 225.8L1160.1 222.3L1160.8 199.3L1161.6 221.2L1162.3 243.5L1163.1 214.3L1163.8 192.9L1164.6 244.2L1165.4 266.2L1166.1 214.7L1166.9 211.3L1167.6 209.3L1168.4 256.9L1169.1 178.3L1169.9 214.1L1170.6 257.2L1171.4 200.2L1172.1 263.7L1172.9 242.6L1173.7 204.2L1174.4 217.1L1175.2 180.2L1175.9 193.9L1176.7 274.1L1177.4 200.4L1178.2 281.3L1178.9 222.3L1179.7 251.5L1180.4 221.9L1181.2 171.0L1181.9 190.9L1182.7 212.1L1183.5 187.8L1184.2 178.8L1185.0 214.3L1185.7 198.8L1186.5 173.5L1187.2 190.0L1188.0 236.7L1188.7 205.1L1189.5 244.7L1190.2 275.8L1191.0 226.3L1191.7 189.9L1192.5 180.2L1193.3 205.4L1194.0 242.8L1194.8 217.9L1195.5 207.3L1196.3 166.3L1197.0 179.3L1197.8 164.0L1198.5 164.3L1199.3 143.7L1200.0 133.7L1200.8 154.9L1201.5 145.8L1202.3 147.1L1203.1 184.4L1203.8 172.6L1204.6 224.2L1205.3 213.2L1206.1 166.0L1206.8 141.3L1207.6 186.3L1208.3 160.5L1209.1 199.3L1209.8 160.7L1210.6 131.7L1211.4 177.3L1212.1 160.6L1212.9 209.5L1213.6 165.0L1214.4 157.8L1215.1 231.0L1215.9 209.8L1216.6 227.8L1217.4 250.5L1218.1 233.7L1218.9 227.2L1219.6 228.8L1220.4 240.9L1221.2 215.3L1221.9 253.2L1222.7 237.9L1223.4 258.7L1224.2 229.7L1224.9 210.7L1225.7 236.1L1226.4 221.8L1227.2 230.9L1227.9 230.0L1228.7 246.4L1229.4 219.4L1230.2 223.9L1231.0 190.7L1231.7 200.9L1232.5 247.2L1233.2 219.1L1234.0 212.5L1234.7 201.5L1235.5 232.0L1236.2 231.0L1237.0 205.9L1237.7 234.2L1238.5 232.7L1239.2 240.3L1240.0 218.3L1240.8 253.4L1241.5 239.0L1242.3 227.7L1243.0 200.9L1243.8 221.4L1244.5 245.6L1245.3 229.5L1246.0 257.4L1246.8 251.1L1247.5 268.2L1248.3 258.8L1249.1 235.9L1249.8 197.1L1250.6 230.7L1251.3 250.6L1252.1 239.7L1252.8 274.3L1253.6 225.6L1254.3 223.7L1255.1 277.4L1255.8 259.8L1256.6 241.4L1257.3 224.4L1258.1 205.7L1258.9 224.0L1259.6 264.6L1260.4 249.7L1261.1 205.6L1261.9 263.6L1262.6 272.6L1263.4 263.7L1264.1 257.3L1264.9 264.8L1265.6 251.7L1266.4 254.6L1267.1 221.0L1267.9 265.2L1268.7 244.3L1269.4 278.4L1270.2 201.9L1270.9 241.2L1271.7 257.5L1272.4 229.6L1273.2 241.4L1273.9 245.5L1274.7 238.3L1275.4 199.9L1276.2 219.3L1277.0 240.4L1277.7 249.7L1278.5 229.6L1279.2 225.1L1280.0 226.6L1280.7 242.5L1281.5 211.1L1282.2 202.3L1283.0 219.9L1283.7 207.0L1284.5 211.4L1285.2 221.2L1286.0 231.0L1286.8 209.2L1287.5 233.5L1288.3 200.2L1289.0 226.3L1289.8 201.8L1290.5 201.2L1291.3 228.3L1292.0 217.7L1292.8 211.9L1293.5 227.0L1294.3 256.1L1295.0 257.0L1295.8 256.2L1296.6 276.3L1297.3 247.2L1298.1 292.7L1298.8 244.8L1299.6 276.1L1300.3 279.1L1301.1 285.2L1301.8 261.8L1302.6 254.8L1303.3 272.2L1304.1 288.6L1304.8 271.3L1305.6 273.1L1306.4 226.9L1307.1 253.2L1307.9 253.8L1308.6 288.4L1309.4 293.1L1310.1 265.8L1310.9 229.4L1311.6 220.2L1312.4 252.2L1313.1 255.7L1313.9 236.5L1314.7 267.3L1315.4 229.6L1316.2 247.3L1316.9 257.4L1317.7 233.5L1318.4 289.9L1319.2 278.6L1319.9 235.2L1320.7 226.1L1321.4 261.8L1322.2 257.1L1322.9 230.7L1323.7 239.4L1324.5 242.8L1325.2 243.4L1326.0 261.6L1326.7 257.0L1327.5 281.9L1328.2 274.5L1329.0 266.0L1329.7 270.8L1330.5 276.3L1331.2 265.9L1332.0 227.8L1332.7 259.1L1333.5 250.6L1334.3 277.8L1335.0 254.8L1335.8 258.2L1336.5 255.3L1337.3 271.6L1338.0 256.8L1338.8 243.8L1339.5 252.0L1340.3 305.9L1341.0 248.4L1341.8 247.0L1342.5 262.6L1343.3 303.8L1344.1 281.1L1344.8 281.9L1345.6 277.7L1346.3 246.9L1347.1 252.3L1347.8 264.4L1348.6 277.2L1349.3 289.3L1350.1 282.2L1350.8 272.2L1351.6 263.3L1352.3 286.4L1353.1 305.4L1353.9 291.3L1354.6 286.3L1355.4 248.9L1356.1 247.2L1356.9 272.3L1357.6 274.5L1358.4 284.9L1359.1 281.5L1359.9 313.3L1360.6 295.4L1361.4 311.2L1362.2 283.1L1362.9 288.0L1363.7 286.9L1364.4 295.0L1365.2 256.9L1365.9 302.9L1366.7 277.6L1367.4 300.9L1368.2 286.5L1368.9 275.2L1369.7 277.5L1370.4 295.0L1371.2 268.4L1372.0 263.3L1372.7 249.5L1373.5 217.6L1374.2 276.7L1375.0 271.3L1375.7 251.1L1376.5 284.9L1377.2 235.4L1378.0 243.4L1378.7 300.6L1379.5 288.9L1380.2 215.5L1381.0 215.3L1381.8 218.4L1382.5 269.4L1383.3 241.6L1384.0 242.3L1384.8 264.5L1385.5 234.5L1386.3 248.7L1387.0 272.5L1387.8 266.9L1388.5 263.5L1389.3 238.9L1390.0 260.1L1390.8 292.0L1391.6 281.1L1392.3 290.4L1393.1 229.2L1393.8 195.6L1394.6 215.9L1395.3 237.0L1396.1 258.2L1396.8 263.2L1397.6 222.3L1398.3 215.3L1399.1 258.2L1399.9 215.8L1400.6 254.0L1401.4 231.3L1402.1 250.3L1402.9 252.7L1403.6 254.8L1404.4 256.3L1405.1 217.4L1405.9 235.4L1406.6 233.1L1407.4 239.7L1408.1 205.0L1408.9 231.9L1409.7 218.8L1410.4 215.8L1411.2 223.0L1411.9 247.8L1412.7 275.2L1413.4 256.6L1414.2 244.0L1414.9 268.1L1415.7 206.8L1416.4 231.6L1417.2 248.5L1417.9 201.7L1418.7 252.9L1419.5 275.8L1420.2 248.9L1421.0 245.3L1421.7 278.4L1422.5 272.8L1423.2 199.2L1424.0 209.4L1424.7 208.0L1425.5 207.9L1426.2 166.1L1427.0 259.1L1427.8 198.5L1428.5 214.0L1429.3 209.4L1430.0 241.7L1430.8 209.4L1431.5 192.7L1432.3 225.2L1433.0 263.6L1433.8 211.8L1434.5 267.3L1435.3 230.9L1436.0 202.2L1436.8 262.3L1437.6 199.7L1438.3 243.8L1439.1 204.8L1439.8 225.8L1440.6 183.4L1441.3 180.9L1442.1 219.1L1442.8 205.3L1443.6 200.0L1444.3 188.7L1445.1 205.4L1445.8 169.4L1446.6 168.1L1447.4 160.6L1448.1 178.0L1448.9 178.8L1449.6 192.3L1450.4 193.6L1451.1 192.1L1451.9 232.0L1452.6 226.1L1453.4 229.5L1454.1 203.4L1454.9 188.0L1455.6 228.5L1456.4 183.6L1457.2 156.3L1457.9 175.7L1458.7 209.5L1459.4 234.6L1460.2 225.6L1460.9 184.9L1461.7 205.6L1462.4 182.4L1463.2 212.1L1463.9 198.2L1464.7 234.7L1465.5 239.0L1466.2 229.0L1467.0 239.0L1467.7 212.6L1468.5 193.6L1469.2 225.3L1470.0 237.8L1470.7 278.8L1471.5 182.5L1472.2 155.2L1473.0 170.2L1473.7 192.7L1474.5 179.3L1475.3 169.1L1476.0 153.7L1476.8 179.2L1477.5 193.1L1478.3 212.8L1479.0 185.5L1479.8 158.9L1480.5 206.4L1481.3 182.6L1482.0 176.4L1482.8 191.3L1483.5 146.4L1484.3 170.5L1485.1 174.3L1485.8 184.0L1486.6 204.3L1487.3 192.0L1488.1 151.1L1488.8 167.2L1489.6 179.3L1490.3 182.9L1491.1 159.2L1491.8 147.2L1492.6 186.0L1493.3 189.9L1494.1 183.9L1494.9 150.9L1495.6 146.8L1496.4 146.4L1497.1 166.3L1497.9 218.6L1498.6 187.1L1499.4 188.0L1500.1 161.9L1500.9 204.0L1501.6 163.0L1502.4 183.6L1503.2 185.5L1503.9 163.8L1504.7 195.6L1505.4 159.0L1506.2 165.4L1506.9 178.8L1507.7 174.4L1508.4 189.9L1509.2 201.5L1509.9 181.1L1510.7 172.4L1511.4 171.1L1512.2 173.7L1513.0 196.1L1513.7 181.5L1514.5 190.2L1515.2 182.6L1516.0 167.1L1516.7 195.8L1517.5 166.1L1518.2 179.6L1519.0 210.0L1519.7 161.2L1520.5 193.8L1521.2 136.6L1522.0 147.1L1522.8 136.1L1523.5 149.0L1524.3 149.2L1525.0 158.2L1525.8 192.0L1526.5 171.0L1527.3 174.9L1528.0 160.5L1528.8 155.3L1529.5 146.6L1530.3 136.3L1531.0 153.9L1531.8 191.6L1532.6 175.1L1533.3 153.3L1534.1 191.8L1534.8 156.7L1535.6 149.7L1536.3 140.4L1537.1 141.9L1537.8 151.7L1538.6 198.8L1539.3 179.3L1540.1 180.9L1540.8 202.3L1541.6 210.2L1542.4 184.0L1543.1 213.0L1543.9 236.5L1544.6 273.5L1545.4 237.6L1546.1 195.9L1546.9 181.4L1547.6 272.4L1548.4 254.7L1549.1 193.4L1549.9 216.4L1550.7 217.8L1551.4 233.4L1552.2 226.6L1552.9 209.1L1553.7 221.7L1554.4 230.5L1555.2 233.3L1555.9 197.5L1556.7 195.6L1557.4 205.8L1558.2 195.9L1558.9 234.2L1559.7 249.9L1560.5 244.5L1561.2 230.8L1562.0 237.2L1562.7 258.8L1563.5 226.5L1564.2 252.4L1565.0 253.3L1565.7 245.1L1566.5 281.3L1567.2 228.3L1568.0 253.1L1568.7 220.9L1569.5 217.4L1570.3 210.5L1571.0 240.7L1571.8 217.8L1572.5 234.3L1573.3 212.2L1574.0 252.6L1574.8 273.5L1575.5 248.7L1576.3 271.8L1577.0 254.1L1577.8 273.5L1578.5 247.6L1579.3 206.0L1580.1 259.4L1580.8 239.1L1581.6 215.4L1582.3 218.7L1583.1 198.7L1583.8 225.8L1584.6 211.9L1585.3 260.3L1586.1 254.1L1586.8 205.5L1587.6 198.5L1588.4 215.9L1589.1 192.9L1589.9 217.7L1590.6 224.4L1591.4 212.2L1592.1 214.0L1592.9 232.9L1593.6 251.0L1594.4 255.8L1595.1 233.5L1595.9 242.1L1596.6 216.9L1597.4 232.0L1598.2 210.4L1598.9 236.0L1599.7 206.1L1600.4 205.0L1601.2 222.6L1601.9 195.9L1602.7 202.2L1603.4 212.2L1604.2 226.7L1604.9 230.7L1605.7 202.8L1606.4 226.0L1607.2 222.0L1608.0 248.7L1608.7 240.4L1609.5 205.6L1610.2 190.7L1611.0 220.0L1611.7 244.8L1612.5 233.5L1613.2 247.4L1614.0 229.2L1614.7 214.3L1615.5 246.9L1616.2 241.1L1617.0 252.4L1617.8 217.2L1618.5 236.0L1619.3 226.8L1620.0 251.5L1620.8 229.9L1621.5 225.9L1622.3 225.4L1623.0 260.9L1623.8 242.4L1624.5 225.7L1625.3 218.4L1626.1 216.6L1626.8 262.7L1627.6 211.9L1628.3 218.4L1629.1 245.6L1629.8 263.9L1630.6 239.2L1631.3 254.2L1632.1 256.6L1632.8 262.0L1633.6 243.0L1634.3 273.5L1635.1 248.9L1635.9 276.4L1636.6 225.0L1637.4 207.2L1638.1 205.8L1638.9 181.6L1639.6 216.9L1640.4 196.2L1641.1 247.6L1641.9 191.6L1642.6 247.1L1643.4 220.4L1644.1 190.5L1644.9 212.6L1645.7 243.5L1646.4 200.9L1647.2 223.3L1647.9 258.7L1648.7 244.8L1649.4 219.8L1650.2 202.6L1650.9 225.3L1651.7 183.5L1652.4 171.0L1653.2 185.4L1654.0 185.1L1654.7 249.4L1655.5 251.4L1656.2 194.8L1657.0 185.3L1657.7 219.7L1658.5 197.3L1659.2 198.2L1660.0 208.9L1660.7 215.2L1661.5 216.8L1662.2 258.5L1663.0 246.2L1663.8 258.7L1664.5 187.4L1665.3 247.1L1666.0 228.7L1666.8 255.9L1667.5 194.5L1668.3 199.5L1669.0 194.4L1669.8 192.6L1670.5 206.0L1671.3 204.6L1672.0 171.8L1672.8 183.7L1673.6 202.1L1674.3 204.9L1675.1 186.1L1675.8 183.1L1676.6 185.2L1677.3 165.3L1678.1 157.5L1678.8 213.2L1679.6 186.8L1680.3 190.8L1681.1 174.1L1681.8 211.0L1682.6 224.2L1683.4 192.8L1684.1 199.8L1684.9 220.3L1685.6 220.1L1686.4 212.9L1687.1 179.8L1687.9 225.2L1688.6 215.8L1689.4 214.3L1690.1 212.5L1690.9 184.8L1691.7 182.7L1692.4 213.2L1693.2 201.4L1693.9 175.1L1694.7 248.9L1695.4 204.3L1696.2 186.0L1696.9 178.6L1697.7 214.1L1698.4 228.8L1699.2 212.3L1699.9 225.6L1700.7 165.1L1701.5 183.1L1702.2 184.0L1703.0 196.8L1703.7 212.3L1704.5 148.0L1705.2 248.9L1706.0 191.3L1706.7 207.3L1707.5 223.3L1708.2 227.1L1709.0 211.6L1709.7 146.4L1710.5 155.6" stroke="#4f7994"/>
<path d="M956.5 410.4L957.3 398.2L958.0 348.8L958.8 284.5L959.5 289.9L960.3 266.0L961.0 258.8L961.8 271.6L962.5 241.6L963.3 270.0L964.0 274.4L964.8 293.0L965.5 280.0L966.3 279.9L967.1 246.0L967.8 297.8L968.6 223.5L969.3 239.8L970.1 203.5L970.8 180.6L971.6 182.0L972.3 182.0L973.1 200.5L973.8 187.9L974.6 206.2L975.4 148.5L976.1 168.1L976.9 157.8L977.6 185.5L978.4 141.5L979.1 161.2L979.9 174.3L980.6 149.5L981.4 187.7L982.1 179.8L982.9 195.8L983.6 198.0L984.4 161.1L985.2 157.9L985.9 166.8L986.7 187.3L987.4 201.7L988.2 164.9L988.9 161.7L989.7 158.0L990.4 160.7L991.2 166.8L991.9 169.7L992.7 214.4L993.4 171.4L994.2 168.1L995.0 181.5L995.7 159.1L996.5 164.4L997.2 171.5L998.0 189.1L998.7 145.5L999.5 197.3L1000.2 171.0L1001.0 176.1L1001.7 191.7L1002.5 190.8L1003.2 199.1L1004.0 181.9L1004.8 174.4L1005.5 180.0L1006.3 158.2L1007.0 194.9L1007.8 163.9L1008.5 151.1L1009.3 210.9L1010.0 177.7L1010.8 154.9L1011.5 207.6L1012.3 173.0L1013.0 114.0L1013.8 163.2L1014.6 167.1L1015.3 144.9L1016.1 141.5L1016.8 150.2L1017.6 167.2L1018.3 188.5L1019.1 214.4L1019.8 164.8L1020.6 192.3L1021.3 166.3L1022.1 169.5L1022.9 152.7L1023.6 152.3L1024.4 164.8L1025.1 160.2L1025.9 178.3L1026.6 170.7L1027.4 200.4L1028.1 188.8L1028.9 186.7L1029.6 201.8L1030.4 194.9L1031.1 184.7L1031.9 181.8L1032.7 180.7L1033.4 199.6L1034.2 155.3L1034.9 191.9L1035.7 197.4L1036.4 177.1L1037.2 189.9L1037.9 161.7L1038.7 200.1L1039.4 187.8L1040.2 186.8L1040.9 193.2L1041.7 184.8L1042.5 179.2L1043.2 201.1L1044.0 188.4L1044.7 169.4L1045.5 187.2L1046.2 156.5L1047.0 204.0L1047.7 184.4L1048.5 183.9L1049.2 214.4L1050.0 214.4L1050.8 157.1L1051.5 194.9L1052.3 202.7L1053.0 213.7L1053.8 158.1L1054.5 185.8L1055.3 203.0L1056.0 191.2L1056.8 196.6L1057.5 195.3L1058.3 167.3L1059.0 166.0L1059.8 151.3L1060.6 169.6L1061.3 158.1L1062.1 168.9L1062.8 199.8L1063.6 202.2L1064.3 185.9L1065.1 183.4L1065.8 184.3L1066.6 169.4L1067.3 175.7L1068.1 180.7L1068.8 205.5L1069.6 197.4L1070.4 173.9L1071.1 194.3L1071.9 172.7L1072.6 178.2L1073.4 187.8L1074.1 183.5L1074.9 181.0L1075.6 186.8L1076.4 174.8L1077.1 170.9L1077.9 177.2L1078.6 197.1L1079.4 184.1L1080.2 213.5L1080.9 192.4L1081.7 151.3L1082.4 166.8L1083.2 213.4L1083.9 187.6L1084.7 176.8L1085.4 167.7L1086.2 201.0L1086.9 202.5L1087.7 197.5L1088.5 192.6L1089.2 207.8L1090.0 201.0L1090.7 166.9L1091.5 191.9L1092.2 187.4L1093.0 182.0L1093.7 194.9L1094.5 185.7L1095.2 151.3L1096.0 198.5L1096.7 202.6L1097.5 184.9L1098.3 177.3L1099.0 185.4L1099.8 162.9L1100.5 152.1L1101.3 179.4L1102.0 176.5L1102.8 166.9L1103.5 168.8L1104.3 197.7L1105.0 207.1L1105.8 195.4L1106.5 180.7L1107.3 159.5L1108.1 183.2L1108.8 205.1L1109.6 149.4L1110.3 190.2L1111.1 136.6L1111.8 159.3L1112.6 177.4L1113.3 148.5L1114.1 139.9L1114.8 169.9L1115.6 188.7L1116.3 167.3L1117.1 196.9L1117.9 163.3L1118.6 203.7L1119.4 181.4L1120.1 179.1L1120.9 185.7L1121.6 181.5L1122.4 209.1L1123.1 209.5L1123.9 192.9L1124.6 173.9L1125.4 151.3L1126.2 154.6L1126.9 169.5L1127.7 170.4L1128.4 138.3L1129.2 172.9L1129.9 182.2L1130.7 149.7L1131.4 149.3L1132.2 189.2L1132.9 191.9L1133.7 166.8L1134.4 195.9L1135.2 165.0L1136.0 166.7L1136.7 137.8L1137.5 181.8L1138.2 174.6L1139.0 193.3L1139.7 190.3L1140.5 139.9L1141.2 177.2L1142.0 196.2L1142.7 174.8L1143.5 170.7L1144.2 174.1L1145.0 188.5L1145.8 203.1L1146.5 209.5L1147.3 180.0L1148.0 198.4L1148.8 208.1L1149.5 183.5L1150.3 178.1L1151.0 207.0L1151.8 191.9L1152.5 169.2L1153.3 183.8L1154.0 182.4L1154.8 169.8L1155.6 168.0L1156.3 157.1L1157.1 204.6L1157.8 184.3L1158.6 191.6L1159.3 158.9L1160.1 153.7L1160.8 167.5L1161.6 170.3L1162.3 186.1L1163.1 160.4L1163.8 179.9L1164.6 199.4L1165.4 164.5L1166.1 186.7L1166.9 161.2L1167.6 177.0L1168.4 180.4L1169.1 203.0L1169.9 168.8L1170.6 175.7L1171.4 191.0L1172.1 158.7L1172.9 170.8L1173.7 159.5L1174.4 159.9L1175.2 182.1L1175.9 186.8L1176.7 204.6L1177.4 204.6L1178.2 200.7L1178.9 176.7L1179.7 198.2L1180.4 175.3L1181.2 141.5L1181.9 193.2L1182.7 167.1L1183.5 155.6L1184.2 162.9L1185.0 185.6L1185.7 196.0L1186.5 172.2L1187.2 180.4L1188.0 174.2L1188.7 157.9L1189.5 173.2L1190.2 174.0L1191.0 149.2L1191.7 186.3L1192.5 150.9L1193.3 172.8L1194.0 156.7L1194.8 157.2L1195.5 196.0L1196.3 181.9L1197.0 155.2L1197.8 166.8L1198.5 196.9L1199.3 167.0L1200.0 171.7L1200.8 199.2L1201.5 166.2L1202.3 179.5L1203.1 164.1L1203.8 182.7L1204.6 206.1L1205.3 164.9L1206.1 202.6L1206.8 185.6L1207.6 179.2L1208.3 167.6L1209.1 172.6L1209.8 179.5L1210.6 185.2L1211.4 208.9L1212.1 165.7L1212.9 174.1L1213.6 200.4L1214.4 189.5L1215.1 160.8L1215.9 210.1L1216.6 193.9L1217.4 192.7L1218.1 184.4L1218.9 209.4L1219.6 205.6L1220.4 176.1L1221.2 190.5L1221.9 166.3L1222.7 197.1L1223.4 196.6L1224.2 183.2L1224.9 153.3L1225.7 153.1L1226.4 189.2L1227.2 182.4L1227.9 153.1L1228.7 193.5L1229.4 174.5L1230.2 171.9L1231.0 169.6L1231.7 158.7L1232.5 214.4L1233.2 186.5L1234.0 178.0L1234.7 196.3L1235.5 151.3L1236.2 172.8L1237.0 181.0L1237.7 166.9L1238.5 160.5L1239.2 151.3L1240.0 176.4L1240.8 195.3L1241.5 151.3L1242.3 152.4L1243.0 173.4L1243.8 177.9L1244.5 161.2L1245.3 176.4L1246.0 176.4L1246.8 135.0L1247.5 159.5L1248.3 132.9L1249.1 121.8L1249.8 121.8L1250.6 178.6L1251.3 166.7L1252.1 210.2L1252.8 129.7L1253.6 152.2L1254.3 173.3L1255.1 164.7L1255.8 178.7L1256.6 173.6L1257.3 152.3L1258.1 121.8L1258.9 129.3L1259.6 199.2L1260.4 191.2L1261.1 202.7L1261.9 160.9L1262.6 161.6L1263.4 143.6L1264.1 173.7L1264.9 171.2L1265.6 179.6L1266.4 209.1L1267.1 156.4L1267.9 183.4L1268.7 135.0L1269.4 187.8L1270.2 161.7L1270.9 165.6L1271.7 171.9L1272.4 205.3L1273.2 204.6L1273.9 157.4L1274.7 135.2L1275.4 208.2L1276.2 146.4L1277.0 151.1L1277.7 164.7L1278.5 183.4L1279.2 153.4L1280.0 181.6L1280.7 209.8L1281.5 139.4L1282.2 194.1L1283.0 214.1L1283.7 161.6L1284.5 175.3L1285.2 125.8L1286.0 112.0L1286.8 151.0L1287.5 165.4L1288.3 136.1L1289.0 132.6L1289.8 141.9L1290.5 136.6L1291.3 138.0L1292.0 149.2L1292.8 127.3L1293.5 148.5L1294.3 168.7L1295.0 112.0L1295.8 151.8L1296.6 137.2L1297.3 124.2L1298.1 115.6L1298.8 126.9L1299.6 131.9L1300.3 161.8L1301.1 125.0L1301.8 177.3L1302.6 140.2L1303.3 171.5L1304.1 187.1L1304.8 131.8L1305.6 179.5L1306.4 199.3L1307.1 159.6L1307.9 173.7L1308.6 202.9L1309.4 162.0L1310.1 155.6L1310.9 146.2L1311.6 117.9L1312.4 185.4L1313.1 166.3L1313.9 198.9L1314.7 195.3L1315.4 185.5L1316.2 148.1L1316.9 205.3L1317.7 197.6L1318.4 104.2L1319.2 179.9L1319.9 110.0L1320.7 91.8L1321.4 160.5L1322.2 132.0L1322.9 189.3L1323.7 179.0L1324.5 142.8L1325.2 180.6L1326.0 166.6L1326.7 175.8L1327.5 123.8L1328.2 141.4L1329.0 140.2L1329.7 167.5L1330.5 174.9L1331.2 166.5L1332.0 194.6L1332.7 168.9L1333.5 139.8L1334.3 213.2L1335.0 165.2L1335.8 168.0L1336.5 197.0L1337.3 188.7L1338.0 198.6L1338.8 191.4L1339.5 173.2L1340.3 195.2L1341.0 171.7L1341.8 178.2L1342.5 147.8L1343.3 170.8L1344.1 164.1L1344.8 179.6L1345.6 213.1L1346.3 214.4L1347.1 206.6L1347.8 179.3L1348.6 192.0L1349.3 181.9L1350.1 159.3L1350.8 168.8L1351.6 165.8L1352.3 155.7L1353.1 199.8L1353.9 165.6L1354.6 158.6L1355.4 185.9L1356.1 158.0L1356.9 139.7L1357.6 144.0L1358.4 178.9L1359.1 182.4L1359.9 181.5L1360.6 163.1L1361.4 147.1L1362.2 136.5L1362.9 138.7L1363.7 160.9L1364.4 135.7L1365.2 155.1L1365.9 165.8L1366.7 198.3L1367.4 121.8L1368.2 191.3L1368.9 154.5L1369.7 176.7L1370.4 191.3L1371.2 157.8L1372.0 168.2L1372.7 183.2L1373.5 172.9L1374.2 154.0L1375.0 174.5L1375.7 176.2L1376.5 134.7L1377.2 196.4L1378.0 183.1L1378.7 121.8L1379.5 139.5L1380.2 204.9L1381.0 213.9L1381.8 187.6L1382.5 138.3L1383.3 159.6L1384.0 194.2L1384.8 186.4L1385.5 168.5L1386.3 153.5L1387.0 114.0L1387.8 172.2L1388.5 180.6L1389.3 185.9L1390.0 211.3L1390.8 185.5L1391.6 129.5L1392.3 134.4L1393.1 193.2L1393.8 198.3L1394.6 182.5L1395.3 131.7L1396.1 155.0L1396.8 176.2L1397.6 214.4L1398.3 197.6L1399.1 197.4L1399.9 210.6L1400.6 207.6L1401.4 159.3L1402.1 154.8L1402.9 146.0L1403.6 165.6L1404.4 167.9L1405.1 179.0L1405.9 154.5L1406.6 176.3L1407.4 158.0L1408.1 214.4L1408.9 175.6L1409.7 214.4L1410.4 214.4L1411.2 160.5L1411.9 193.7L1412.7 193.0L1413.4 145.8L1414.2 184.9L1414.9 178.2L1415.7 185.1L1416.4 160.0L1417.2 173.6L1417.9 185.5L1418.7 176.2L1419.5 163.7L1420.2 172.0L1421.0 213.6L1421.7 181.1L1422.5 131.7L1423.2 197.2L1424.0 183.5L1424.7 188.4L1425.5 196.5L1426.2 153.6L1427.0 214.4L1427.8 161.8L1428.5 184.6L1429.3 185.8L1430.0 204.5L1430.8 205.2L1431.5 146.2L1432.3 179.5L1433.0 131.7L1433.8 162.0L1434.5 164.3L1435.3 205.3L1436.0 178.6L1436.8 167.8L1437.6 158.2L1438.3 153.9L1439.1 160.3L1439.8 186.7L1440.6 148.9L1441.3 167.5L1442.1 141.1L1442.8 166.8L1443.6 179.5L1444.3 149.0L1445.1 158.6L1445.8 176.8L1446.6 192.3L1447.4 198.6L1448.1 180.1L1448.9 154.6L1449.6 134.3L1450.4 185.7L1451.1 205.5L1451.9 190.3L1452.6 209.6L1453.4 175.2L1454.1 139.2L1454.9 205.7L1455.6 160.8L1456.4 186.6L1457.2 186.9L1457.9 182.6L1458.7 211.2L1459.4 165.4L1460.2 165.1L1460.9 131.7L1461.7 142.2L1462.4 158.4L1463.2 164.7L1463.9 170.4L1464.7 182.3L1465.5 206.3L1466.2 131.7L1467.0 171.5L1467.7 184.8L1468.5 151.8L1469.2 153.8L1470.0 207.1L1470.7 203.0L1471.5 203.3L1472.2 195.5L1473.0 184.2L1473.7 167.3L1474.5 187.0L1475.3 175.5L1476.0 166.8L1476.8 175.4L1477.5 131.9L1478.3 194.2L1479.0 159.0L1479.8 214.4L1480.5 164.9L1481.3 165.0L1482.0 193.6L1482.8 161.8L1483.5 163.1L1484.3 175.6L1485.1 131.7L1485.8 203.6L1486.6 149.4L1487.3 166.3L1488.1 185.5L1488.8 191.4L1489.6 208.9L1490.3 214.9L1491.1 210.6L1491.8 188.0L1492.6 206.3L1493.3 168.3L1494.1 178.2L1494.9 212.7L1495.6 205.8L1496.4 160.7L1497.1 167.4L1497.9 198.8L1498.6 199.4L1499.4 209.4L1500.1 154.5L1500.9 153.6L1501.6 172.4L1502.4 162.6L1503.2 178.4L1503.9 182.4L1504.7 190.5L1505.4 153.8L1506.2 195.0L1506.9 202.4L1507.7 190.4L1508.4 161.6L1509.2 206.1L1509.9 183.6L1510.7 175.3L1511.4 163.9L1512.2 117.3L1513.0 163.8L1513.7 142.8L1514.5 123.0L1515.2 177.8L1516.0 194.1L1516.7 163.7L1517.5 176.4L1518.2 192.6L1519.0 120.0L1519.7 191.1L1520.5 167.5L1521.2 143.5L1522.0 107.1L1522.8 144.6L1523.5 160.9L1524.3 174.0L1525.0 166.0L1525.8 150.0L1526.5 161.3L1527.3 84.4L1528.0 148.2L1528.8 161.6L1529.5 165.9L1530.3 141.1L1531.0 174.4L1531.8 177.3L1532.6 177.2L1533.3 121.8L1534.1 151.3L1534.8 157.4L1535.6 138.2L1536.3 176.5L1537.1 126.6L1537.8 188.8L1538.6 180.8L1539.3 157.2L1540.1 197.3L1540.8 184.2L1541.6 178.8L1542.4 133.1L1543.1 174.6L1543.9 113.2L1544.6 205.2L1545.4 138.8L1546.1 193.9L1546.9 207.8L1547.6 194.4L1548.4 164.2L1549.1 123.3L1549.9 132.5L1550.7 144.0L1551.4 170.5L1552.2 180.4L1552.9 149.5L1553.7 116.0L1554.4 145.2L1555.2 124.0L1555.9 189.9L1556.7 137.3L1557.4 117.2L1558.2 186.3L1558.9 143.4L1559.7 185.4L1560.5 167.7L1561.2 143.6L1562.0 134.2L1562.7 163.4L1563.5 189.5L1564.2 116.7L1565.0 207.6L1565.7 163.6L1566.5 143.5L1567.2 116.9L1568.0 164.5L1568.7 164.2L1569.5 183.9L1570.3 144.4L1571.0 206.0L1571.8 193.9L1572.5 156.3L1573.3 201.0L1574.0 154.2L1574.8 209.3L1575.5 180.9L1576.3 185.4L1577.0 209.5L1577.8 173.4L1578.5 185.6L1579.3 159.7L1580.1 154.7L1580.8 198.6L1581.6 170.8L1582.3 165.2L1583.1 156.6L1583.8 173.1L1584.6 181.6L1585.3 168.0L1586.1 134.1L1586.8 170.3L1587.6 144.3L1588.4 155.3L1589.1 175.9L1589.9 182.5L1590.6 136.6L1591.4 201.4L1592.1 197.7L1592.9 214.4L1593.6 214.4L1594.4 170.4L1595.1 164.3L1595.9 180.1L1596.6 195.8L1597.4 170.8L1598.2 169.5L1598.9 196.4L1599.7 162.8L1600.4 178.9L1601.2 198.1L1601.9 176.4L1602.7 191.8L1603.4 114.0L1604.2 143.1L1604.9 158.5L1605.7 168.8L1606.4 167.8L1607.2 175.3L1608.0 183.8L1608.7 183.4L1609.5 181.1L1610.2 167.9L1611.0 169.6L1611.7 166.5L1612.5 161.2L1613.2 199.1L1614.0 140.1L1614.7 173.3L1615.5 139.7L1616.2 155.1L1617.0 186.8L1617.8 171.3L1618.5 200.6L1619.3 148.6L1620.0 212.8L1620.8 158.8L1621.5 171.2L1622.3 166.6L1623.0 164.1L1623.8 173.5L1624.5 194.6L1625.3 180.8L1626.1 175.8L1626.8 167.2L1627.6 156.4L1628.3 138.3L1629.1 143.1L1629.8 167.1L1630.6 136.6L1631.3 177.6L1632.1 164.0L1632.8 150.1L1633.6 155.7L1634.3 181.9L1635.1 181.2L1635.9 179.1L1636.6 206.8L1637.4 214.4L1638.1 150.6L1638.9 184.1L1639.6 148.3L1640.4 122.7L1641.1 143.0L1641.9 187.4L1642.6 164.2L1643.4 153.9L1644.1 198.2L1644.9 187.2L1645.7 172.5L1646.4 210.5L1647.2 190.0L1647.9 155.3L1648.7 136.8L1649.4 152.9L1650.2 173.5L1650.9 193.2L1651.7 195.1L1652.4 180.0L1653.2 140.7L1654.0 188.4L1654.7 178.2L1655.5 142.5L1656.2 130.6L1657.0 171.0L1657.7 180.0L1658.5 120.1L1659.2 141.9L1660.0 200.8L1660.7 129.0L1661.5 162.5L1662.2 199.8L1663.0 200.2L1663.8 151.6L1664.5 182.4L1665.3 200.7L1666.0 193.7L1666.8 148.8L1667.5 204.5L1668.3 132.6L1669.0 165.0L1669.8 138.6L1670.5 152.1L1671.3 157.6L1672.0 180.3L1672.8 136.1L1673.6 170.3L1674.3 199.1L1675.1 178.6L1675.8 184.5L1676.6 183.2L1677.3 151.9L1678.1 156.0L1678.8 169.1L1679.6 181.3L1680.3 214.4L1681.1 214.4L1681.8 168.9L1682.6 157.4L1683.4 138.0L1684.1 116.9L1684.9 188.4L1685.6 186.0L1686.4 117.0L1687.1 157.5L1687.9 210.8L1688.6 184.0L1689.4 178.0L1690.1 169.6L1690.9 144.5L1691.7 129.7L1692.4 135.0L1693.2 126.0L1693.9 155.3L1694.7 177.2L1695.4 207.3L1696.2 185.2L1696.9 186.8L1697.7 158.3L1698.4 129.9L1699.2 208.0L1699.9 118.9L1700.7 196.1L1701.5 159.8L1702.2 120.6L1703.0 128.6L1703.7 116.9L1704.5 148.6L1705.2 146.5L1706.0 164.4L1706.7 182.3L1707.5 186.1L1708.2 116.9L1709.0 176.9L1709.7 118.9L1710.5 169.8" stroke="#ac365f"/>
</g>
<rect x="956.5" y="63.6" width="754.0" height="446.8" fill="none" stroke="#333333" stroke-width="1.7"/>
<path d="M956.5 510.4v4.5M1107.3 510.4v4.5M1258.1 510.4v4.5M1408.9 510.4v4.5M1559.7 510.4v4.5M1710.5 510.4v4.5M956.5 460.5h-4.5M956.5 410.4h-4.5M956.5 360.4h-4.5M956.5 310.3h-4.5M956.5 260.2h-4.5M956.5 210.1h-4.5M956.5 160.0h-4.5M956.5 110.0h-4.5M1710.5 457.2h4.5M1710.5 404.2h4.5M1710.5 351.2h4.5M1710.5 298.2h4.5M1710.5 245.2h4.5M1710.5 192.2h4.5M1710.5 139.2h4.5M1710.5 86.2h4.5" stroke="#333333" stroke-width="1.5" fill="none"/>
<g style="font-family:'DejaVu Sans','Liberation Sans',sans-serif;font-size:12.4px" fill="#222" stroke="#222" stroke-width="0.45">
<text x="956.5" y="528.2" text-anchor="middle">0</text>
<text x="1107.3" y="528.2" text-anchor="middle">20</text>
<text x="1258.1" y="528.2" text-anchor="middle">40</text>
<text x="1408.9" y="528.2" text-anchor="middle">60</text>
<text x="1559.7" y="528.2" text-anchor="middle">80</text>
<text x="1710.5" y="528.2" text-anchor="middle">100</text>
<text x="947.9" y="465.0" text-anchor="end">0.4</text>
<text x="947.9" y="414.9" text-anchor="end">0.8</text>
<text x="947.9" y="364.9" text-anchor="end">1.2</text>
<text x="947.9" y="314.8" text-anchor="end">1.6</text>
<text x="947.9" y="264.7" text-anchor="end">2.0</text>
<text x="947.9" y="214.6" text-anchor="end">2.4</text>
<text x="947.9" y="164.5" text-anchor="end">2.8</text>
<text x="947.9" y="114.5" text-anchor="end">3.2</text>
</g>
<g style="font-family:'DejaVu Sans','Liberation Sans',sans-serif;font-size:12.4px" fill="#8e4866" stroke="#8e4866" stroke-width="0.45">
<text x="1719.2" y="461.0">0.8</text>
<text x="1719.2" y="408.0">1.6</text>
<text x="1719.2" y="355.0">2.4</text>
<text x="1719.2" y="302.0">3.2</text>
<text x="1719.2" y="249.0">4.0</text>
<text x="1719.2" y="196.0">4.8</text>
<text x="1719.2" y="143.0">5.6</text>
<text x="1719.2" y="90.0">6.4</text>
</g>
<text x="1333.5" y="550.7" text-anchor="middle" style="font-family:'DejaVu Sans','Liberation Sans',sans-serif;font-size:19.8px" fill="#111" stroke="#111" stroke-width="0.3">Time (nsec)</text>
<text transform="translate(917.6 287.0) rotate(-90)" text-anchor="middle" style="font-family:'DejaVu Sans','Liberation Sans',sans-serif;font-size:19.8px" fill="#111" stroke="#111" stroke-width="0.3">Protein RMSD (<tspan font-style="italic" font-size="17.5px">Å</tspan>)</text>
<text transform="translate(1746.7 289.0) rotate(90)" text-anchor="middle" style="font-family:'DejaVu Sans','Liberation Sans',sans-serif;font-size:19.8px" fill="#a02e58" stroke="#a02e58" stroke-width="0.3">Ligand RMSD (<tspan font-style="italic" font-size="17.5px">Å</tspan>)</text>
<rect x="1257.3" y="23.2" width="150.9" height="17.0" rx="2" fill="#fff" stroke="#e2e2e2" stroke-width="1"/>
<rect x="1256.3" y="26.2" width="20.5" height="9.7" fill="#4f7994"/>
<text x="1276.6" y="35.5" style="font-family:'DejaVu Sans','Liberation Sans',sans-serif;font-size:12.3px" fill="#222" stroke="#222" stroke-width="0.35">C<tspan font-style="italic">α</tspan></text>
<rect x="1292.8" y="26.2" width="20.5" height="9.7" fill="#ac365f"/>
<text x="1313.2" y="35.5" style="font-family:'DejaVu Sans','Liberation Sans',sans-serif;font-size:12.4px" fill="#222" stroke="#222" stroke-width="0.35">(Lig) fit on Prot</text>
<text x="1168.8" y="32.8" style="font-family:'Liberation Serif','Times New Roman',serif;font-size:42.5px" fill="#000">(C2)</text>
<clipPath id="c3"><rect x="501.1" y="608.6" width="764.4" height="446.4"/></clipPath>
<g clip-path="url(#c3)" fill="none" stroke-width="1.9" stroke-linejoin="round">
<path d="M501.1 876.5L501.9 831.1L502.6 835.7L503.4 850.0L504.2 867.5L504.9 850.7L505.7 833.9L506.5 816.4L507.2 825.5L508.0 840.1L508.7 826.1L509.5 804.7L510.3 803.8L511.0 835.3L511.8 824.3L512.6 798.1L513.3 813.3L514.1 803.0L514.9 807.5L515.6 804.5L516.4 792.7L517.2 798.3L517.9 793.2L518.7 785.7L519.4 796.6L520.2 804.0L521.0 774.8L521.7 786.2L522.5 779.5L523.3 788.2L524.0 776.1L524.8 789.9L525.6 790.2L526.3 781.5L527.1 766.0L527.9 770.1L528.6 762.7L529.4 758.0L530.1 776.6L530.9 763.8L531.7 789.5L532.4 789.0L533.2 755.3L534.0 776.6L534.7 763.9L535.5 775.5L536.3 791.4L537.0 776.5L537.8 803.9L538.6 807.6L539.3 826.5L540.1 786.6L540.8 821.3L541.6 798.6L542.4 837.2L543.1 799.2L543.9 832.0L544.7 825.5L545.4 845.8L546.2 819.5L547.0 802.9L547.7 788.4L548.5 766.8L549.3 770.5L550.0 792.3L550.8 770.7L551.6 749.4L552.3 772.9L553.1 781.8L553.8 769.1L554.6 769.7L555.4 775.7L556.1 768.3L556.9 775.2L557.7 747.7L558.4 714.9L559.2 710.8L560.0 708.7L560.7 743.4L561.5 728.6L562.3 716.9L563.0 712.1L563.8 734.7L564.5 716.8L565.3 710.1L566.1 737.6L566.8 715.2L567.6 723.9L568.4 730.3L569.1 725.1L569.9 729.9L570.7 754.8L571.4 719.6L572.2 682.9L573.0 647.0L573.7 630.5L574.5 665.5L575.2 680.4L576.0 680.9L576.8 705.9L577.5 714.6L578.3 716.8L579.1 727.3L579.8 721.4L580.6 727.4L581.4 755.3L582.1 739.8L582.9 706.1L583.7 748.6L584.4 736.5L585.2 714.9L585.9 738.0L586.7 729.5L587.5 718.3L588.2 715.8L589.0 710.0L589.8 724.3L590.5 742.3L591.3 725.2L592.1 722.2L592.8 738.1L593.6 677.1L594.4 688.2L595.1 681.3L595.9 650.8L596.6 673.7L597.4 697.5L598.2 716.5L598.9 706.1L599.7 711.3L600.5 725.9L601.2 720.5L602.0 730.7L602.8 724.7L603.5 724.0L604.3 750.4L605.1 731.8L605.8 718.3L606.6 727.1L607.4 716.0L608.1 734.4L608.9 725.8L609.6 767.6L610.4 786.1L611.2 780.9L611.9 721.7L612.7 788.3L613.5 780.7L614.2 786.5L615.0 776.6L615.8 757.9L616.5 721.9L617.3 800.5L618.1 765.9L618.8 814.7L619.6 783.1L620.3 786.0L621.1 786.1L621.9 784.1L622.6 773.1L623.4 793.3L624.2 809.1L624.9 805.5L625.7 777.9L626.5 767.2L627.2 793.4L628.0 791.2L628.8 799.7L629.5 786.0L630.3 788.8L631.0 831.7L631.8 802.5L632.6 824.7L633.3 835.5L634.1 782.2L634.9 798.9L635.6 804.7L636.4 821.2L637.2 813.1L637.9 809.8L638.7 811.8L639.5 840.6L640.2 845.8L641.0 813.0L641.7 799.5L642.5 845.8L643.3 806.2L644.0 790.9L644.8 811.9L645.6 820.2L646.3 830.0L647.1 822.5L647.9 799.6L648.6 811.0L649.4 807.1L650.2 827.2L650.9 807.8L651.7 787.5L652.5 787.1L653.2 817.9L654.0 799.4L654.7 776.3L655.5 790.6L656.3 800.6L657.0 817.4L657.8 793.4L658.6 809.5L659.3 814.3L660.1 796.7L660.9 799.5L661.6 824.4L662.4 828.7L663.2 809.6L663.9 789.5L664.7 791.4L665.4 774.3L666.2 771.6L667.0 759.7L667.7 770.2L668.5 771.0L669.3 805.2L670.0 778.0L670.8 792.6L671.6 796.3L672.3 774.6L673.1 790.5L673.9 743.9L674.6 768.3L675.4 784.6L676.1 740.2L676.9 748.8L677.7 783.6L678.4 785.9L679.2 786.3L680.0 804.4L680.7 803.5L681.5 820.7L682.3 820.4L683.0 810.9L683.8 802.9L684.6 783.0L685.3 829.3L686.1 820.8L686.8 822.7L687.6 813.3L688.4 794.1L689.1 798.9L689.9 819.0L690.7 815.7L691.4 800.5L692.2 786.7L693.0 809.6L693.7 805.2L694.5 802.2L695.3 801.0L696.0 810.7L696.8 812.4L697.6 821.0L698.3 822.3L699.1 827.6L699.8 822.1L700.6 829.0L701.4 806.9L702.1 814.2L702.9 804.5L703.7 814.5L704.4 823.8L705.2 798.7L706.0 775.6L706.7 818.4L707.5 810.5L708.3 816.3L709.0 777.5L709.8 802.5L710.5 790.6L711.3 778.8L712.1 773.6L712.8 778.3L713.6 775.8L714.4 757.5L715.1 763.1L715.9 790.5L716.7 779.8L717.4 779.1L718.2 779.2L719.0 750.4L719.7 778.5L720.5 773.8L721.2 773.4L722.0 777.8L722.8 765.7L723.5 785.8L724.3 770.8L725.1 765.2L725.8 764.6L726.6 777.1L727.4 786.9L728.1 772.2L728.9 752.9L729.7 773.4L730.4 742.1L731.2 767.4L731.9 754.6L732.7 744.1L733.5 742.8L734.2 756.9L735.0 766.5L735.8 752.3L736.5 766.4L737.3 784.8L738.1 756.0L738.8 727.8L739.6 736.6L740.4 732.0L741.1 740.4L741.9 741.0L742.7 733.7L743.4 755.8L744.2 714.8L744.9 704.1L745.7 761.9L746.5 757.5L747.2 749.0L748.0 746.3L748.8 765.3L749.5 681.3L750.3 741.0L751.1 705.0L751.8 728.7L752.6 715.4L753.4 713.5L754.1 717.9L754.9 747.7L755.6 758.3L756.4 794.6L757.2 753.1L757.9 762.6L758.7 794.1L759.5 773.5L760.2 786.6L761.0 788.3L761.8 791.3L762.5 783.3L763.3 753.1L764.1 761.4L764.8 761.7L765.6 747.2L766.3 757.8L767.1 750.2L767.9 743.5L768.6 743.9L769.4 766.6L770.2 758.9L770.9 754.1L771.7 758.2L772.5 760.8L773.2 761.2L774.0 765.7L774.8 764.6L775.5 778.1L776.3 785.0L777.0 783.6L777.8 770.7L778.6 768.7L779.3 781.3L780.1 776.0L780.9 776.9L781.6 750.4L782.4 750.4L783.2 774.0L783.9 781.1L784.7 795.7L785.5 790.3L786.2 783.0L787.0 779.0L787.8 760.3L788.5 785.2L789.3 771.8L790.0 782.8L790.8 781.2L791.6 781.8L792.3 789.6L793.1 774.1L793.9 772.2L794.6 802.0L795.4 776.7L796.2 806.3L796.9 792.2L797.7 804.6L798.5 803.5L799.2 802.3L800.0 802.8L800.7 768.6L801.5 795.1L802.3 809.2L803.0 787.5L803.8 791.2L804.6 782.4L805.3 770.5L806.1 723.9L806.9 686.3L807.6 715.4L808.4 693.6L809.2 742.5L809.9 738.8L810.7 730.2L811.4 728.7L812.2 713.5L813.0 712.8L813.7 728.4L814.5 735.1L815.3 739.3L816.0 732.9L816.8 726.9L817.6 728.7L818.3 747.8L819.1 756.6L819.9 731.9L820.6 726.1L821.4 749.2L822.1 746.2L822.9 745.3L823.7 718.0L824.4 724.6L825.2 724.2L826.0 733.3L826.7 711.4L827.5 746.0L828.3 739.3L829.0 740.0L829.8 718.7L830.6 732.7L831.3 758.6L832.1 731.0L832.8 747.8L833.6 756.1L834.4 740.5L835.1 756.0L835.9 744.9L836.7 762.1L837.4 756.8L838.2 752.0L839.0 773.1L839.7 762.8L840.5 766.6L841.3 736.4L842.0 737.1L842.8 755.6L843.6 760.2L844.3 749.2L845.1 757.3L845.8 739.0L846.6 757.6L847.4 742.7L848.1 764.2L848.9 754.5L849.7 749.8L850.4 761.0L851.2 789.3L852.0 751.2L852.7 749.8L853.5 776.2L854.3 758.4L855.0 788.1L855.8 771.0L856.5 787.8L857.3 768.4L858.1 789.6L858.8 777.7L859.6 773.2L860.4 768.4L861.1 741.9L861.9 727.0L862.7 791.2L863.4 788.6L864.2 783.4L865.0 784.3L865.7 767.9L866.5 776.6L867.2 762.2L868.0 776.0L868.8 764.4L869.5 768.4L870.3 778.4L871.1 769.6L871.8 781.6L872.6 781.2L873.4 779.7L874.1 793.8L874.9 757.9L875.7 750.0L876.4 752.6L877.2 782.2L877.9 795.0L878.7 782.5L879.5 780.9L880.2 762.6L881.0 775.3L881.8 752.2L882.5 760.9L883.3 759.6L884.1 765.2L884.8 770.4L885.6 750.4L886.4 769.3L887.1 787.0L887.9 820.2L888.7 801.0L889.4 804.3L890.2 784.5L890.9 801.0L891.7 795.0L892.5 783.4L893.2 798.2L894.0 816.5L894.8 780.8L895.5 770.0L896.3 767.9L897.1 817.5L897.8 798.9L898.6 767.6L899.4 786.2L900.1 781.7L900.9 765.6L901.6 793.9L902.4 800.6L903.2 769.3L903.9 776.8L904.7 782.8L905.5 767.1L906.2 800.5L907.0 815.2L907.8 822.5L908.5 822.0L909.3 824.3L910.1 789.6L910.8 799.3L911.6 826.2L912.3 813.1L913.1 809.4L913.9 784.0L914.6 780.8L915.4 811.0L916.2 812.2L916.9 805.6L917.7 802.6L918.5 785.7L919.2 808.3L920.0 818.5L920.8 826.6L921.5 812.4L922.3 806.7L923.0 794.4L923.8 818.1L924.6 827.1L925.3 805.4L926.1 810.7L926.9 806.0L927.6 787.4L928.4 753.2L929.2 769.7L929.9 789.2L930.7 762.7L931.5 766.3L932.2 750.4L933.0 791.5L933.8 792.0L934.5 785.4L935.3 779.3L936.0 772.7L936.8 779.6L937.6 777.6L938.3 778.1L939.1 781.4L939.9 784.4L940.6 806.2L941.4 766.0L942.2 779.9L942.9 762.5L943.7 745.2L944.5 730.1L945.2 763.8L946.0 748.0L946.7 748.3L947.5 766.5L948.3 747.1L949.0 759.7L949.8 760.7L950.6 773.9L951.3 779.7L952.1 752.9L952.9 774.1L953.6 763.3L954.4 764.3L955.2 759.6L955.9 773.3L956.7 746.5L957.4 753.0L958.2 749.0L959.0 713.2L959.7 736.6L960.5 707.5L961.3 713.4L962.0 706.0L962.8 702.8L963.6 696.0L964.3 701.8L965.1 709.0L965.9 701.1L966.6 720.4L967.4 732.2L968.1 696.8L968.9 719.0L969.7 715.4L970.4 715.4L971.2 739.1L972.0 732.8L972.7 720.0L973.5 715.5L974.3 685.7L975.0 716.1L975.8 703.3L976.6 712.2L977.3 713.0L978.1 724.8L978.9 742.9L979.6 671.7L980.4 734.9L981.1 712.9L981.9 718.7L982.7 673.9L983.4 683.5L984.2 738.3L985.0 703.8L985.7 681.7L986.5 732.0L987.3 744.2L988.0 706.7L988.8 697.1L989.6 744.2L990.3 722.3L991.1 670.7L991.8 689.9L992.6 738.6L993.4 726.9L994.1 726.0L994.9 732.8L995.7 726.0L996.4 663.5L997.2 675.6L998.0 719.2L998.7 714.1L999.5 744.5L1000.3 773.5L1001.0 763.3L1001.8 755.3L1002.5 753.8L1003.3 761.7L1004.1 772.9L1004.8 738.7L1005.6 751.9L1006.4 773.5L1007.1 765.9L1007.9 729.9L1008.7 750.9L1009.4 794.6L1010.2 757.4L1011.0 750.7L1011.7 775.7L1012.5 762.6L1013.2 763.5L1014.0 769.5L1014.8 770.7L1015.5 767.9L1016.3 762.2L1017.1 779.6L1017.8 796.9L1018.6 769.7L1019.4 765.4L1020.1 788.6L1020.9 757.2L1021.7 762.3L1022.4 765.9L1023.2 773.6L1023.9 769.4L1024.7 803.3L1025.5 774.5L1026.2 758.3L1027.0 748.2L1027.8 752.5L1028.5 775.5L1029.3 748.9L1030.1 769.2L1030.8 776.2L1031.6 779.3L1032.4 767.8L1033.1 760.8L1033.9 767.3L1034.7 760.2L1035.4 750.2L1036.2 779.7L1036.9 758.9L1037.7 788.1L1038.5 778.1L1039.2 764.1L1040.0 772.3L1040.8 783.8L1041.5 753.8L1042.3 753.4L1043.1 751.8L1043.8 766.5L1044.6 772.4L1045.4 768.9L1046.1 758.8L1046.9 759.3L1047.6 749.4L1048.4 784.1L1049.2 771.4L1049.9 737.5L1050.7 769.2L1051.5 768.8L1052.2 768.2L1053.0 793.7L1053.8 783.0L1054.5 744.2L1055.3 735.0L1056.1 782.6L1056.8 770.1L1057.6 790.9L1058.3 764.1L1059.1 714.7L1059.9 764.9L1060.6 791.1L1061.4 775.2L1062.2 739.7L1062.9 751.9L1063.7 749.8L1064.5 765.0L1065.2 782.1L1066.0 800.1L1066.8 775.9L1067.5 758.0L1068.3 764.9L1069.0 766.2L1069.8 762.1L1070.6 751.7L1071.3 774.3L1072.1 759.6L1072.9 779.1L1073.6 770.5L1074.4 761.2L1075.2 778.7L1075.9 768.8L1076.7 799.1L1077.5 786.5L1078.2 777.9L1079.0 765.3L1079.8 800.3L1080.5 785.3L1081.3 767.3L1082.0 783.9L1082.8 749.6L1083.6 771.5L1084.3 785.7L1085.1 781.5L1085.9 775.5L1086.6 797.8L1087.4 765.8L1088.2 760.1L1088.9 772.4L1089.7 757.0L1090.5 768.3L1091.2 798.5L1092.0 802.8L1092.7 805.4L1093.5 785.0L1094.3 770.7L1095.0 779.0L1095.8 777.8L1096.6 787.5L1097.3 782.0L1098.1 785.1L1098.9 801.8L1099.6 801.0L1100.4 799.3L1101.2 819.9L1101.9 797.8L1102.7 794.3L1103.4 814.1L1104.2 788.6L1105.0 777.1L1105.7 811.2L1106.5 806.0L1107.3 808.3L1108.0 809.2L1108.8 812.7L1109.6 793.5L1110.3 779.7L1111.1 751.8L1111.9 758.0L1112.6 761.7L1113.4 754.0L1114.1 766.4L1114.9 784.8L1115.7 752.5L1116.4 768.2L1117.2 772.7L1118.0 775.2L1118.7 752.6L1119.5 772.8L1120.3 770.2L1121.0 760.1L1121.8 731.5L1122.6 761.7L1123.3 771.6L1124.1 773.0L1124.9 784.8L1125.6 761.5L1126.4 767.8L1127.1 756.1L1127.9 768.8L1128.7 763.3L1129.4 753.1L1130.2 743.0L1131.0 750.4L1131.7 770.3L1132.5 788.3L1133.3 783.3L1134.0 753.9L1134.8 759.1L1135.6 768.7L1136.3 768.0L1137.1 791.6L1137.8 779.1L1138.6 773.8L1139.4 758.9L1140.1 733.9L1140.9 756.3L1141.7 736.7L1142.4 759.7L1143.2 771.0L1144.0 746.0L1144.7 761.3L1145.5 760.7L1146.3 790.2L1147.0 777.7L1147.8 737.5L1148.5 768.5L1149.3 772.6L1150.1 764.9L1150.8 760.8L1151.6 773.4L1152.4 776.4L1153.1 774.1L1153.9 755.9L1154.7 761.4L1155.4 790.2L1156.2 743.9L1157.0 755.0L1157.7 751.1L1158.5 758.2L1159.2 795.0L1160.0 778.1L1160.8 757.6L1161.5 786.5L1162.3 791.0L1163.1 786.2L1163.8 740.2L1164.6 768.5L1165.4 760.3L1166.1 787.7L1166.9 795.0L1167.7 776.9L1168.4 769.4L1169.2 770.7L1170.0 763.4L1170.7 755.0L1171.5 762.2L1172.2 785.7L1173.0 736.5L1173.8 746.1L1174.5 743.6L1175.3 746.9L1176.1 765.7L1176.8 776.9L1177.6 779.0L1178.4 790.0L1179.1 771.4L1179.9 783.5L1180.7 778.4L1181.4 783.1L1182.2 741.9L1182.9 784.9L1183.7 747.7L1184.5 747.2L1185.2 779.1L1186.0 766.7L1186.8 797.4L1187.5 779.5L1188.3 755.9L1189.1 771.6L1189.8 765.1L1190.6 794.1L1191.4 801.0L1192.1 790.7L1192.9 775.3L1193.6 778.1L1194.4 790.7L1195.2 770.3L1195.9 766.3L1196.7 785.9L1197.5 788.4L1198.2 776.9L1199.0 774.1L1199.8 752.7L1200.5 787.3L1201.3 778.1L1202.1 760.0L1202.8 760.2L1203.6 763.1L1204.3 795.9L1205.1 789.9L1205.9 763.6L1206.6 797.9L1207.4 798.3L1208.2 768.7L1208.9 750.4L1209.7 782.7L1210.5 771.3L1211.2 773.0L1212.0 762.4L1212.8 781.1L1213.5 784.5L1214.3 779.7L1215.0 763.7L1215.8 766.7L1216.6 772.6L1217.3 741.1L1218.1 776.7L1218.9 760.6L1219.6 766.1L1220.4 765.3L1221.2 776.6L1221.9 781.3L1222.7 795.0L1223.5 764.7L1224.2 749.6L1225.0 762.1L1225.8 752.9L1226.5 773.6L1227.3 753.0L1228.0 762.9L1228.8 776.8L1229.6 780.8L1230.3 769.5L1231.1 785.3L1231.9 775.4L1232.6 718.1L1233.4 752.9L1234.2 725.3L1234.9 699.0L1235.7 713.8L1236.5 721.2L1237.2 728.0L1238.0 727.7L1238.7 743.9L1239.5 741.6L1240.3 718.3L1241.0 712.2L1241.8 733.8L1242.6 723.1L1243.3 732.3L1244.1 737.3L1244.9 743.7L1245.6 739.9L1246.4 748.3L1247.2 731.6L1247.9 738.9L1248.7 729.7L1249.4 733.4L1250.2 750.7L1251.0 727.8L1251.7 721.3L1252.5 777.8L1253.3 785.4L1254.0 792.8L1254.8 776.0L1255.6 779.8L1256.3 795.1L1257.1 790.4L1257.9 809.3L1258.6 794.9L1259.4 774.1L1260.1 796.8L1260.9 778.2L1261.7 790.6L1262.4 753.4L1263.2 774.8L1264.0 817.4L1264.7 777.5L1265.5 745.6" stroke="#4f7994"/>
<path d="M501.1 996.5L501.9 977.2L502.6 902.7L503.4 934.0L504.2 956.6L504.9 964.5L505.7 954.2L506.5 954.5L507.2 920.4L508.0 921.6L508.7 912.6L509.5 894.6L510.3 894.3L511.0 909.0L511.8 899.3L512.6 933.8L513.3 904.0L514.1 872.4L514.9 810.1L515.6 828.7L516.4 780.9L517.2 830.1L517.9 799.3L518.7 729.5L519.4 747.1L520.2 729.3L521.0 798.0L521.7 777.7L522.5 808.5L523.3 802.0L524.0 799.4L524.8 797.4L525.6 807.3L526.3 768.9L527.1 809.4L527.9 788.4L528.6 788.7L529.4 781.9L530.1 799.7L530.9 794.9L531.7 780.5L532.4 820.5L533.2 819.8L534.0 845.0L534.7 879.1L535.5 927.0L536.3 902.9L537.0 910.8L537.8 903.4L538.6 882.0L539.3 907.3L540.1 916.5L540.8 899.5L541.6 899.4L542.4 928.6L543.1 876.9L543.9 890.2L544.7 906.8L545.4 895.0L546.2 902.9L547.0 914.8L547.7 904.1L548.5 909.2L549.3 923.3L550.0 888.0L550.8 908.0L551.6 877.5L552.3 931.5L553.1 902.9L553.8 893.4L554.6 885.0L555.4 895.9L556.1 893.8L556.9 899.7L557.7 888.3L558.4 905.1L559.2 887.6L560.0 893.5L560.7 893.5L561.5 907.2L562.3 859.0L563.0 857.5L563.8 882.3L564.5 861.3L565.3 845.9L566.1 869.4L566.8 864.2L567.6 878.9L568.4 855.8L569.1 869.7L569.9 877.6L570.7 883.8L571.4 853.9L572.2 884.8L573.0 857.8L573.7 840.5L574.5 846.7L575.2 867.4L576.0 863.2L576.8 873.8L577.5 876.3L578.3 874.6L579.1 866.2L579.8 891.4L580.6 836.7L581.4 834.0L582.1 861.0L582.9 859.8L583.7 851.9L584.4 912.5L585.2 869.1L585.9 851.9L586.7 889.3L587.5 904.9L588.2 907.0L589.0 881.3L589.8 886.0L590.5 867.9L591.3 884.2L592.1 874.3L592.8 888.5L593.6 880.1L594.4 899.1L595.1 899.7L595.9 906.1L596.6 864.7L597.4 853.2L598.2 884.2L598.9 875.7L599.7 888.6L600.5 889.7L601.2 888.2L602.0 899.0L602.8 895.7L603.5 893.8L604.3 872.9L605.1 908.0L605.8 891.0L606.6 902.3L607.4 892.9L608.1 905.1L608.9 890.9L609.6 889.0L610.4 887.4L611.2 874.4L611.9 876.5L612.7 890.4L613.5 899.8L614.2 889.5L615.0 937.0L615.8 896.5L616.5 898.5L617.3 937.2L618.1 901.9L618.8 915.7L619.6 916.8L620.3 904.0L621.1 883.2L621.9 877.2L622.6 899.1L623.4 909.9L624.2 873.5L624.9 900.8L625.7 894.1L626.5 916.0L627.2 912.5L628.0 906.5L628.8 917.3L629.5 924.4L630.3 938.4L631.0 947.4L631.8 935.3L632.6 928.4L633.3 932.8L634.1 927.1L634.9 932.6L635.6 931.2L636.4 927.2L637.2 918.4L637.9 926.2L638.7 935.2L639.5 928.8L640.2 941.9L641.0 907.3L641.7 927.5L642.5 943.9L643.3 918.6L644.0 936.5L644.8 946.9L645.6 927.9L646.3 925.6L647.1 921.3L647.9 900.9L648.6 861.1L649.4 826.1L650.2 806.7L650.9 793.4L651.7 756.2L652.5 775.6L653.2 783.7L654.0 745.2L654.7 787.1L655.5 767.1L656.3 795.9L657.0 749.3L657.8 754.3L658.6 740.3L659.3 802.0L660.1 811.0L660.9 741.5L661.6 817.4L662.4 807.6L663.2 805.5L663.9 746.5L664.7 786.0L665.4 773.3L666.2 775.4L667.0 750.8L667.7 803.8L668.5 791.9L669.3 748.1L670.0 789.4L670.8 784.7L671.6 757.4L672.3 771.9L673.1 756.5L673.9 706.4L674.6 696.5L675.4 771.1L676.1 776.7L676.9 813.4L677.7 729.4L678.4 739.2L679.2 764.2L680.0 782.7L680.7 742.8L681.5 725.6L682.3 787.8L683.0 776.9L683.8 771.2L684.6 881.4L685.3 776.6L686.1 856.9L686.8 849.4L687.6 789.7L688.4 767.3L689.1 884.6L689.9 876.3L690.7 863.8L691.4 845.0L692.2 759.9L693.0 761.2L693.7 823.2L694.5 828.8L695.3 859.9L696.0 863.7L696.8 752.4L697.6 920.3L698.3 918.7L699.1 923.7L699.8 928.7L700.6 929.3L701.4 943.3L702.1 949.2L702.9 904.1L703.7 915.5L704.4 910.2L705.2 934.1L706.0 906.1L706.7 933.8L707.5 937.3L708.3 936.1L709.0 908.5L709.8 917.4L710.5 901.9L711.3 927.5L712.1 939.8L712.8 952.5L713.6 903.2L714.4 917.3L715.1 912.8L715.9 945.6L716.7 926.9L717.4 929.2L718.2 903.9L719.0 945.0L719.7 931.5L720.5 937.9L721.2 928.9L722.0 883.6L722.8 884.8L723.5 891.2L724.3 927.4L725.1 915.3L725.8 932.5L726.6 932.9L727.4 932.2L728.1 947.1L728.9 933.5L729.7 893.7L730.4 975.8L731.2 957.9L731.9 909.4L732.7 952.2L733.5 967.6L734.2 920.7L735.0 887.6L735.8 898.2L736.5 936.4L737.3 911.5L738.1 896.2L738.8 911.4L739.6 913.2L740.4 911.0L741.1 885.6L741.9 921.9L742.7 911.2L743.4 943.3L744.2 963.7L744.9 920.2L745.7 891.3L746.5 883.0L747.2 905.2L748.0 896.9L748.8 899.3L749.5 869.7L750.3 876.7L751.1 877.6L751.8 909.4L752.6 897.6L753.4 867.2L754.1 899.3L754.9 916.6L755.6 922.6L756.4 867.2L757.2 894.5L757.9 910.8L758.7 911.0L759.5 898.4L760.2 872.4L761.0 887.7L761.8 892.4L762.5 906.8L763.3 871.5L764.1 898.3L764.8 916.3L765.6 901.3L766.3 906.3L767.1 912.9L767.9 920.2L768.6 912.7L769.4 926.8L770.2 921.4L770.9 906.7L771.7 914.1L772.5 905.9L773.2 903.5L774.0 898.3L774.8 925.6L775.5 926.1L776.3 901.1L777.0 923.3L777.8 926.2L778.6 913.5L779.3 919.7L780.1 937.2L780.9 922.4L781.6 920.6L782.4 927.3L783.2 907.0L783.9 900.7L784.7 898.0L785.5 910.7L786.2 922.8L787.0 907.9L787.8 899.8L788.5 914.1L789.3 911.2L790.0 920.5L790.8 915.0L791.6 913.4L792.3 914.1L793.1 915.5L793.9 905.8L794.6 902.8L795.4 930.1L796.2 937.2L796.9 934.3L797.7 912.9L798.5 923.4L799.2 931.1L800.0 911.8L800.7 918.0L801.5 920.1L802.3 915.4L803.0 915.3L803.8 929.4L804.6 904.8L805.3 870.2L806.1 868.5L806.9 802.1L807.6 764.6L808.4 819.6L809.2 855.9L809.9 827.2L810.7 762.5L811.4 785.1L812.2 785.6L813.0 867.8L813.7 904.3L814.5 926.0L815.3 918.1L816.0 903.7L816.8 903.3L817.6 901.0L818.3 930.8L819.1 913.3L819.9 914.6L820.6 934.1L821.4 937.4L822.1 928.6L822.9 933.2L823.7 927.0L824.4 891.8L825.2 918.4L826.0 921.7L826.7 926.9L827.5 912.0L828.3 927.2L829.0 954.8L829.8 936.2L830.6 938.3L831.3 970.8L832.1 933.7L832.8 946.2L833.6 950.7L834.4 949.4L835.1 927.0L835.9 919.9L836.7 922.9L837.4 932.7L838.2 906.4L839.0 916.5L839.7 913.9L840.5 920.5L841.3 918.1L842.0 945.1L842.8 944.6L843.6 953.5L844.3 923.1L845.1 920.7L845.8 915.0L846.6 935.9L847.4 929.0L848.1 887.8L848.9 904.4L849.7 932.1L850.4 878.2L851.2 885.7L852.0 916.0L852.7 911.4L853.5 872.2L854.3 918.2L855.0 916.4L855.8 911.0L856.5 865.4L857.3 884.0L858.1 916.2L858.8 907.4L859.6 911.1L860.4 892.3L861.1 923.3L861.9 908.9L862.7 924.2L863.4 920.0L864.2 893.2L865.0 928.0L865.7 889.9L866.5 891.4L867.2 913.7L868.0 879.4L868.8 862.5L869.5 901.3L870.3 901.3L871.1 874.1L871.8 821.1L872.6 775.5L873.4 683.9L874.1 678.2L874.9 659.8L875.7 630.5L876.4 628.5L877.2 629.9L877.9 649.0L878.7 676.9L879.5 630.5L880.2 670.8L881.0 715.5L881.8 736.2L882.5 755.6L883.3 775.9L884.1 772.9L884.8 794.2L885.6 800.6L886.4 782.8L887.1 769.6L887.9 788.8L888.7 792.1L889.4 803.5L890.2 807.7L890.9 790.2L891.7 784.4L892.5 782.2L893.2 783.8L894.0 785.5L894.8 788.9L895.5 785.4L896.3 776.3L897.1 768.3L897.8 780.4L898.6 815.3L899.4 797.8L900.1 795.1L900.9 790.0L901.6 781.4L902.4 812.1L903.2 783.5L903.9 767.9L904.7 760.8L905.5 780.7L906.2 767.0L907.0 766.1L907.8 766.0L908.5 759.2L909.3 780.1L910.1 756.6L910.8 811.3L911.6 750.4L912.3 754.2L913.1 777.6L913.9 787.6L914.6 778.3L915.4 785.8L916.2 785.8L916.9 774.8L917.7 767.9L918.5 749.2L919.2 741.1L920.0 737.6L920.8 759.2L921.5 686.6L922.3 681.3L923.0 776.1L923.8 756.8L924.6 693.9L925.3 737.6L926.1 747.2L926.9 753.6L927.6 749.3L928.4 676.2L929.2 775.9L929.9 794.5L930.7 831.0L931.5 896.2L932.2 887.1L933.0 901.1L933.8 924.6L934.5 884.8L935.3 915.1L936.0 913.5L936.8 927.5L937.6 916.1L938.3 906.0L939.1 872.3L939.9 885.0L940.6 905.5L941.4 898.9L942.2 890.0L942.9 908.9L943.7 890.3L944.5 893.3L945.2 906.6L946.0 894.3L946.7 900.3L947.5 881.7L948.3 845.2L949.0 829.1L949.8 821.4L950.6 818.4L951.3 839.5L952.1 824.0L952.9 781.0L953.6 734.5L954.4 731.7L955.2 756.0L955.9 740.0L956.7 750.4L957.4 748.7L958.2 735.0L959.0 725.5L959.7 720.0L960.5 716.7L961.3 744.2L962.0 723.9L962.8 749.0L963.6 737.0L964.3 738.9L965.1 754.0L965.9 729.2L966.6 739.5L967.4 740.7L968.1 770.6L968.9 794.5L969.7 797.8L970.4 795.9L971.2 787.9L972.0 798.9L972.7 790.7L973.5 873.2L974.3 794.9L975.0 775.9L975.8 774.9L976.6 791.6L977.3 792.0L978.1 807.9L978.9 765.6L979.6 789.6L980.4 805.4L981.1 796.2L981.9 802.9L982.7 794.8L983.4 792.3L984.2 803.7L985.0 778.6L985.7 765.6L986.5 792.3L987.3 794.0L988.0 797.0L988.8 804.5L989.6 817.7L990.3 797.3L991.1 811.4L991.8 811.2L992.6 785.3L993.4 796.7L994.1 806.9L994.9 790.5L995.7 822.4L996.4 800.7L997.2 819.9L998.0 769.7L998.7 784.1L999.5 777.6L1000.3 808.8L1001.0 800.6L1001.8 813.6L1002.5 862.1L1003.3 800.9L1004.1 821.5L1004.8 801.5L1005.6 792.2L1006.4 810.5L1007.1 810.2L1007.9 871.2L1008.7 816.6L1009.4 827.0L1010.2 840.4L1011.0 781.0L1011.7 796.4L1012.5 800.2L1013.2 824.1L1014.0 792.7L1014.8 808.4L1015.5 801.1L1016.3 775.1L1017.1 799.0L1017.8 818.8L1018.6 803.7L1019.4 825.7L1020.1 819.5L1020.9 816.8L1021.7 800.9L1022.4 804.0L1023.2 816.6L1023.9 838.0L1024.7 787.2L1025.5 801.1L1026.2 814.6L1027.0 832.0L1027.8 850.0L1028.5 795.0L1029.3 819.1L1030.1 782.2L1030.8 791.8L1031.6 790.8L1032.4 834.6L1033.1 792.6L1033.9 861.1L1034.7 873.0L1035.4 904.3L1036.2 884.2L1036.9 892.7L1037.7 905.4L1038.5 877.2L1039.2 920.0L1040.0 788.7L1040.8 812.5L1041.5 777.7L1042.3 810.1L1043.1 814.6L1043.8 819.3L1044.6 850.9L1045.4 773.5L1046.1 809.7L1046.9 801.8L1047.6 822.2L1048.4 817.6L1049.2 812.5L1049.9 800.5L1050.7 794.6L1051.5 812.6L1052.2 783.0L1053.0 824.3L1053.8 801.4L1054.5 816.3L1055.3 789.3L1056.1 813.5L1056.8 805.5L1057.6 823.5L1058.3 836.2L1059.1 804.1L1059.9 809.9L1060.6 813.9L1061.4 839.0L1062.2 780.5L1062.9 816.8L1063.7 810.1L1064.5 788.1L1065.2 798.9L1066.0 795.2L1066.8 828.0L1067.5 795.8L1068.3 826.4L1069.0 804.0L1069.8 821.5L1070.6 781.3L1071.3 790.2L1072.1 808.1L1072.9 792.9L1073.6 778.6L1074.4 803.3L1075.2 823.5L1075.9 812.2L1076.7 805.9L1077.5 816.5L1078.2 802.9L1079.0 826.2L1079.8 834.6L1080.5 839.0L1081.3 826.0L1082.0 826.2L1082.8 818.4L1083.6 824.9L1084.3 840.9L1085.1 850.9L1085.9 850.7L1086.6 812.8L1087.4 836.9L1088.2 784.9L1088.9 821.9L1089.7 826.2L1090.5 832.5L1091.2 797.8L1092.0 835.8L1092.7 840.4L1093.5 820.1L1094.3 786.6L1095.0 873.2L1095.8 795.0L1096.6 779.3L1097.3 790.9L1098.1 850.9L1098.9 791.1L1099.6 797.1L1100.4 801.9L1101.2 809.2L1101.9 781.5L1102.7 776.4L1103.4 803.3L1104.2 799.4L1105.0 812.9L1105.7 779.8L1106.5 788.8L1107.3 806.1L1108.0 797.5L1108.8 777.1L1109.6 844.1L1110.3 878.3L1111.1 897.6L1111.9 945.4L1112.6 929.7L1113.4 887.4L1114.1 825.9L1114.9 750.7L1115.7 759.1L1116.4 798.8L1117.2 830.6L1118.0 800.9L1118.7 762.9L1119.5 755.4L1120.3 801.8L1121.0 809.4L1121.8 758.4L1122.6 776.4L1123.3 811.6L1124.1 741.5L1124.9 773.8L1125.6 773.2L1126.4 788.0L1127.1 757.3L1127.9 741.0L1128.7 756.6L1129.4 802.3L1130.2 809.5L1131.0 743.4L1131.7 756.9L1132.5 735.1L1133.3 747.8L1134.0 771.8L1134.8 800.9L1135.6 762.9L1136.3 775.2L1137.1 740.4L1137.8 852.9L1138.6 766.1L1139.4 750.2L1140.1 750.3L1140.9 736.4L1141.7 784.5L1142.4 743.2L1143.2 771.2L1144.0 881.4L1144.7 763.4L1145.5 805.0L1146.3 787.9L1147.0 781.5L1147.8 798.6L1148.5 793.5L1149.3 815.9L1150.1 754.1L1150.8 804.3L1151.6 785.5L1152.4 758.8L1153.1 788.9L1153.9 833.1L1154.7 782.2L1155.4 800.4L1156.2 755.8L1157.0 740.0L1157.7 759.4L1158.5 801.0L1159.2 796.7L1160.0 783.4L1160.8 767.6L1161.5 777.7L1162.3 807.3L1163.1 773.6L1163.8 766.8L1164.6 787.8L1165.4 797.5L1166.1 747.3L1166.9 816.3L1167.7 827.0L1168.4 763.0L1169.2 737.7L1170.0 830.1L1170.7 780.8L1171.5 788.0L1172.2 791.8L1173.0 814.0L1173.8 811.3L1174.5 809.7L1175.3 792.8L1176.1 735.4L1176.8 786.2L1177.6 762.3L1178.4 785.7L1179.1 807.1L1179.9 803.1L1180.7 788.9L1181.4 687.4L1182.2 730.1L1182.9 758.8L1183.7 766.9L1184.5 830.6L1185.2 794.0L1186.0 797.1L1186.8 808.0L1187.5 731.2L1188.3 686.3L1189.1 791.6L1189.8 801.7L1190.6 831.1L1191.4 762.8L1192.1 804.0L1192.9 801.6L1193.6 795.5L1194.4 777.5L1195.2 761.1L1195.9 776.2L1196.7 787.1L1197.5 793.8L1198.2 803.8L1199.0 788.1L1199.8 829.1L1200.5 779.3L1201.3 788.5L1202.1 783.9L1202.8 823.2L1203.6 747.7L1204.3 724.4L1205.1 780.2L1205.9 788.3L1206.6 812.3L1207.4 786.5L1208.2 775.0L1208.9 786.8L1209.7 757.3L1210.5 771.9L1211.2 758.6L1212.0 777.1L1212.8 765.7L1213.5 768.9L1214.3 822.4L1215.0 814.6L1215.8 830.6L1216.6 797.6L1217.3 779.5L1218.1 764.2L1218.9 776.2L1219.6 744.3L1220.4 774.6L1221.2 767.7L1221.9 750.8L1222.7 738.2L1223.5 753.5L1224.2 766.4L1225.0 776.3L1225.8 746.7L1226.5 772.1L1227.3 785.1L1228.0 830.6L1228.8 798.9L1229.6 805.2L1230.3 769.9L1231.1 777.8L1231.9 826.0L1232.6 950.4L1233.4 847.3L1234.2 861.3L1234.9 910.5L1235.7 913.2L1236.5 921.8L1237.2 898.0L1238.0 896.4L1238.7 921.0L1239.5 905.8L1240.3 931.9L1241.0 905.9L1241.8 899.8L1242.6 940.5L1243.3 894.5L1244.1 903.1L1244.9 886.1L1245.6 924.8L1246.4 899.9L1247.2 943.9L1247.9 913.8L1248.7 886.0L1249.4 922.6L1250.2 909.2L1251.0 914.6L1251.7 926.2L1252.5 903.7L1253.3 901.9L1254.0 910.7L1254.8 926.6L1255.6 897.5L1256.3 932.9L1257.1 923.9L1257.9 899.9L1258.6 944.1L1259.4 922.8L1260.1 934.8L1260.9 931.7L1261.7 935.0L1262.4 916.8L1263.2 926.2L1264.0 882.4L1264.7 922.5L1265.5 915.8" stroke="#ac365f"/>
</g>
<rect x="501.1" y="608.6" width="764.4" height="446.4" fill="none" stroke="#333333" stroke-width="1.7"/>
<path d="M501.1 1055.0v4.5M654.0 1055.0v4.5M806.9 1055.0v4.5M959.7 1055.0v4.5M1112.6 1055.0v4.5M1265.5 1055.0v4.5M501.1 1001.7h-4.5M501.1 948.8h-4.5M501.1 895.8h-4.5M501.1 842.9h-4.5M501.1 790.0h-4.5M501.1 737.1h-4.5M501.1 684.2h-4.5M501.1 631.2h-4.5M1265.5 1001.9h4.5M1265.5 949.1h4.5M1265.5 896.4h4.5M1265.5 843.6h4.5M1265.5 790.9h4.5M1265.5 738.2h4.5M1265.5 685.4h4.5M1265.5 632.7h4.5" stroke="#333333" stroke-width="1.5" fill="none"/>
<g style="font-family:'DejaVu Sans','Liberation Sans',sans-serif;font-size:12.4px" fill="#222" stroke="#222" stroke-width="0.45">
<text x="501.1" y="1072.8" text-anchor="middle">0</text>
<text x="654.0" y="1072.8" text-anchor="middle">20</text>
<text x="806.9" y="1072.8" text-anchor="middle">40</text>
<text x="959.7" y="1072.8" text-anchor="middle">60</text>
<text x="1112.6" y="1072.8" text-anchor="middle">80</text>
<text x="1265.5" y="1072.8" text-anchor="middle">100</text>
<text x="492.5" y="1006.2" text-anchor="end">0.3</text>
<text x="492.5" y="953.3" text-anchor="end">0.6</text>
<text x="492.5" y="900.3" text-anchor="end">0.9</text>
<text x="492.5" y="847.4" text-anchor="end">1.2</text>
<text x="492.5" y="794.5" text-anchor="end">1.5</text>
<text x="492.5" y="741.6" text-anchor="end">1.8</text>
<text x="492.5" y="688.7" text-anchor="end">2.1</text>
<text x="492.5" y="635.7" text-anchor="end">2.4</text>
</g>
<g style="font-family:'DejaVu Sans','Liberation Sans',sans-serif;font-size:12.4px" fill="#8e4866" stroke="#8e4866" stroke-width="0.45">
<text x="1274.2" y="1005.7">0.6</text>
<text x="1274.2" y="952.9">1.2</text>
<text x="1274.2" y="900.2">1.8</text>
<text x="1274.2" y="847.4">2.4</text>
<text x="1274.2" y="794.7">3.0</text>
<text x="1274.2" y="742.0">3.6</text>
<text x="1274.2" y="689.2">4.2</text>
<text x="1274.2" y="636.5">4.8</text>
</g>
<text x="883.3" y="1095.3" text-anchor="middle" style="font-family:'DejaVu Sans','Liberation Sans',sans-serif;font-size:19.8px" fill="#111" stroke="#111" stroke-width="0.3">Time (nsec)</text>
<text transform="translate(461.9 831.8) rotate(-90)" text-anchor="middle" style="font-family:'DejaVu Sans','Liberation Sans',sans-serif;font-size:19.8px" fill="#111" stroke="#111" stroke-width="0.3">Protein RMSD (<tspan font-style="italic" font-size="17.5px">Å</tspan>)</text>
<text transform="translate(1302.7 833.8) rotate(90)" text-anchor="middle" style="font-family:'DejaVu Sans','Liberation Sans',sans-serif;font-size:19.8px" fill="#a02e58" stroke="#a02e58" stroke-width="0.3">Ligand RMSD (<tspan font-style="italic" font-size="17.5px">Å</tspan>)</text>
<rect x="805.8" y="567.7" width="153.4" height="17.0" rx="2" fill="#fff" stroke="#e2e2e2" stroke-width="1"/>
<rect x="804.8" y="570.7" width="20.5" height="9.7" fill="#4f7994"/>
<text x="825.1" y="580.0" style="font-family:'DejaVu Sans','Liberation Sans',sans-serif;font-size:12.3px" fill="#222" stroke="#222" stroke-width="0.35">C<tspan font-style="italic">α</tspan></text>
<rect x="841.3" y="570.7" width="20.5" height="9.7" fill="#ac365f"/>
<text x="861.7" y="580.0" style="font-family:'DejaVu Sans','Liberation Sans',sans-serif;font-size:12.4px" fill="#222" stroke="#222" stroke-width="0.35">(Lig) fit on Prot</text>
<text x="621.5" y="586.8" style="font-family:'Liberation Serif','Times New Roman',serif;font-size:42.5px" fill="#000">(Standard)</text>
</svg>
</body></html>
